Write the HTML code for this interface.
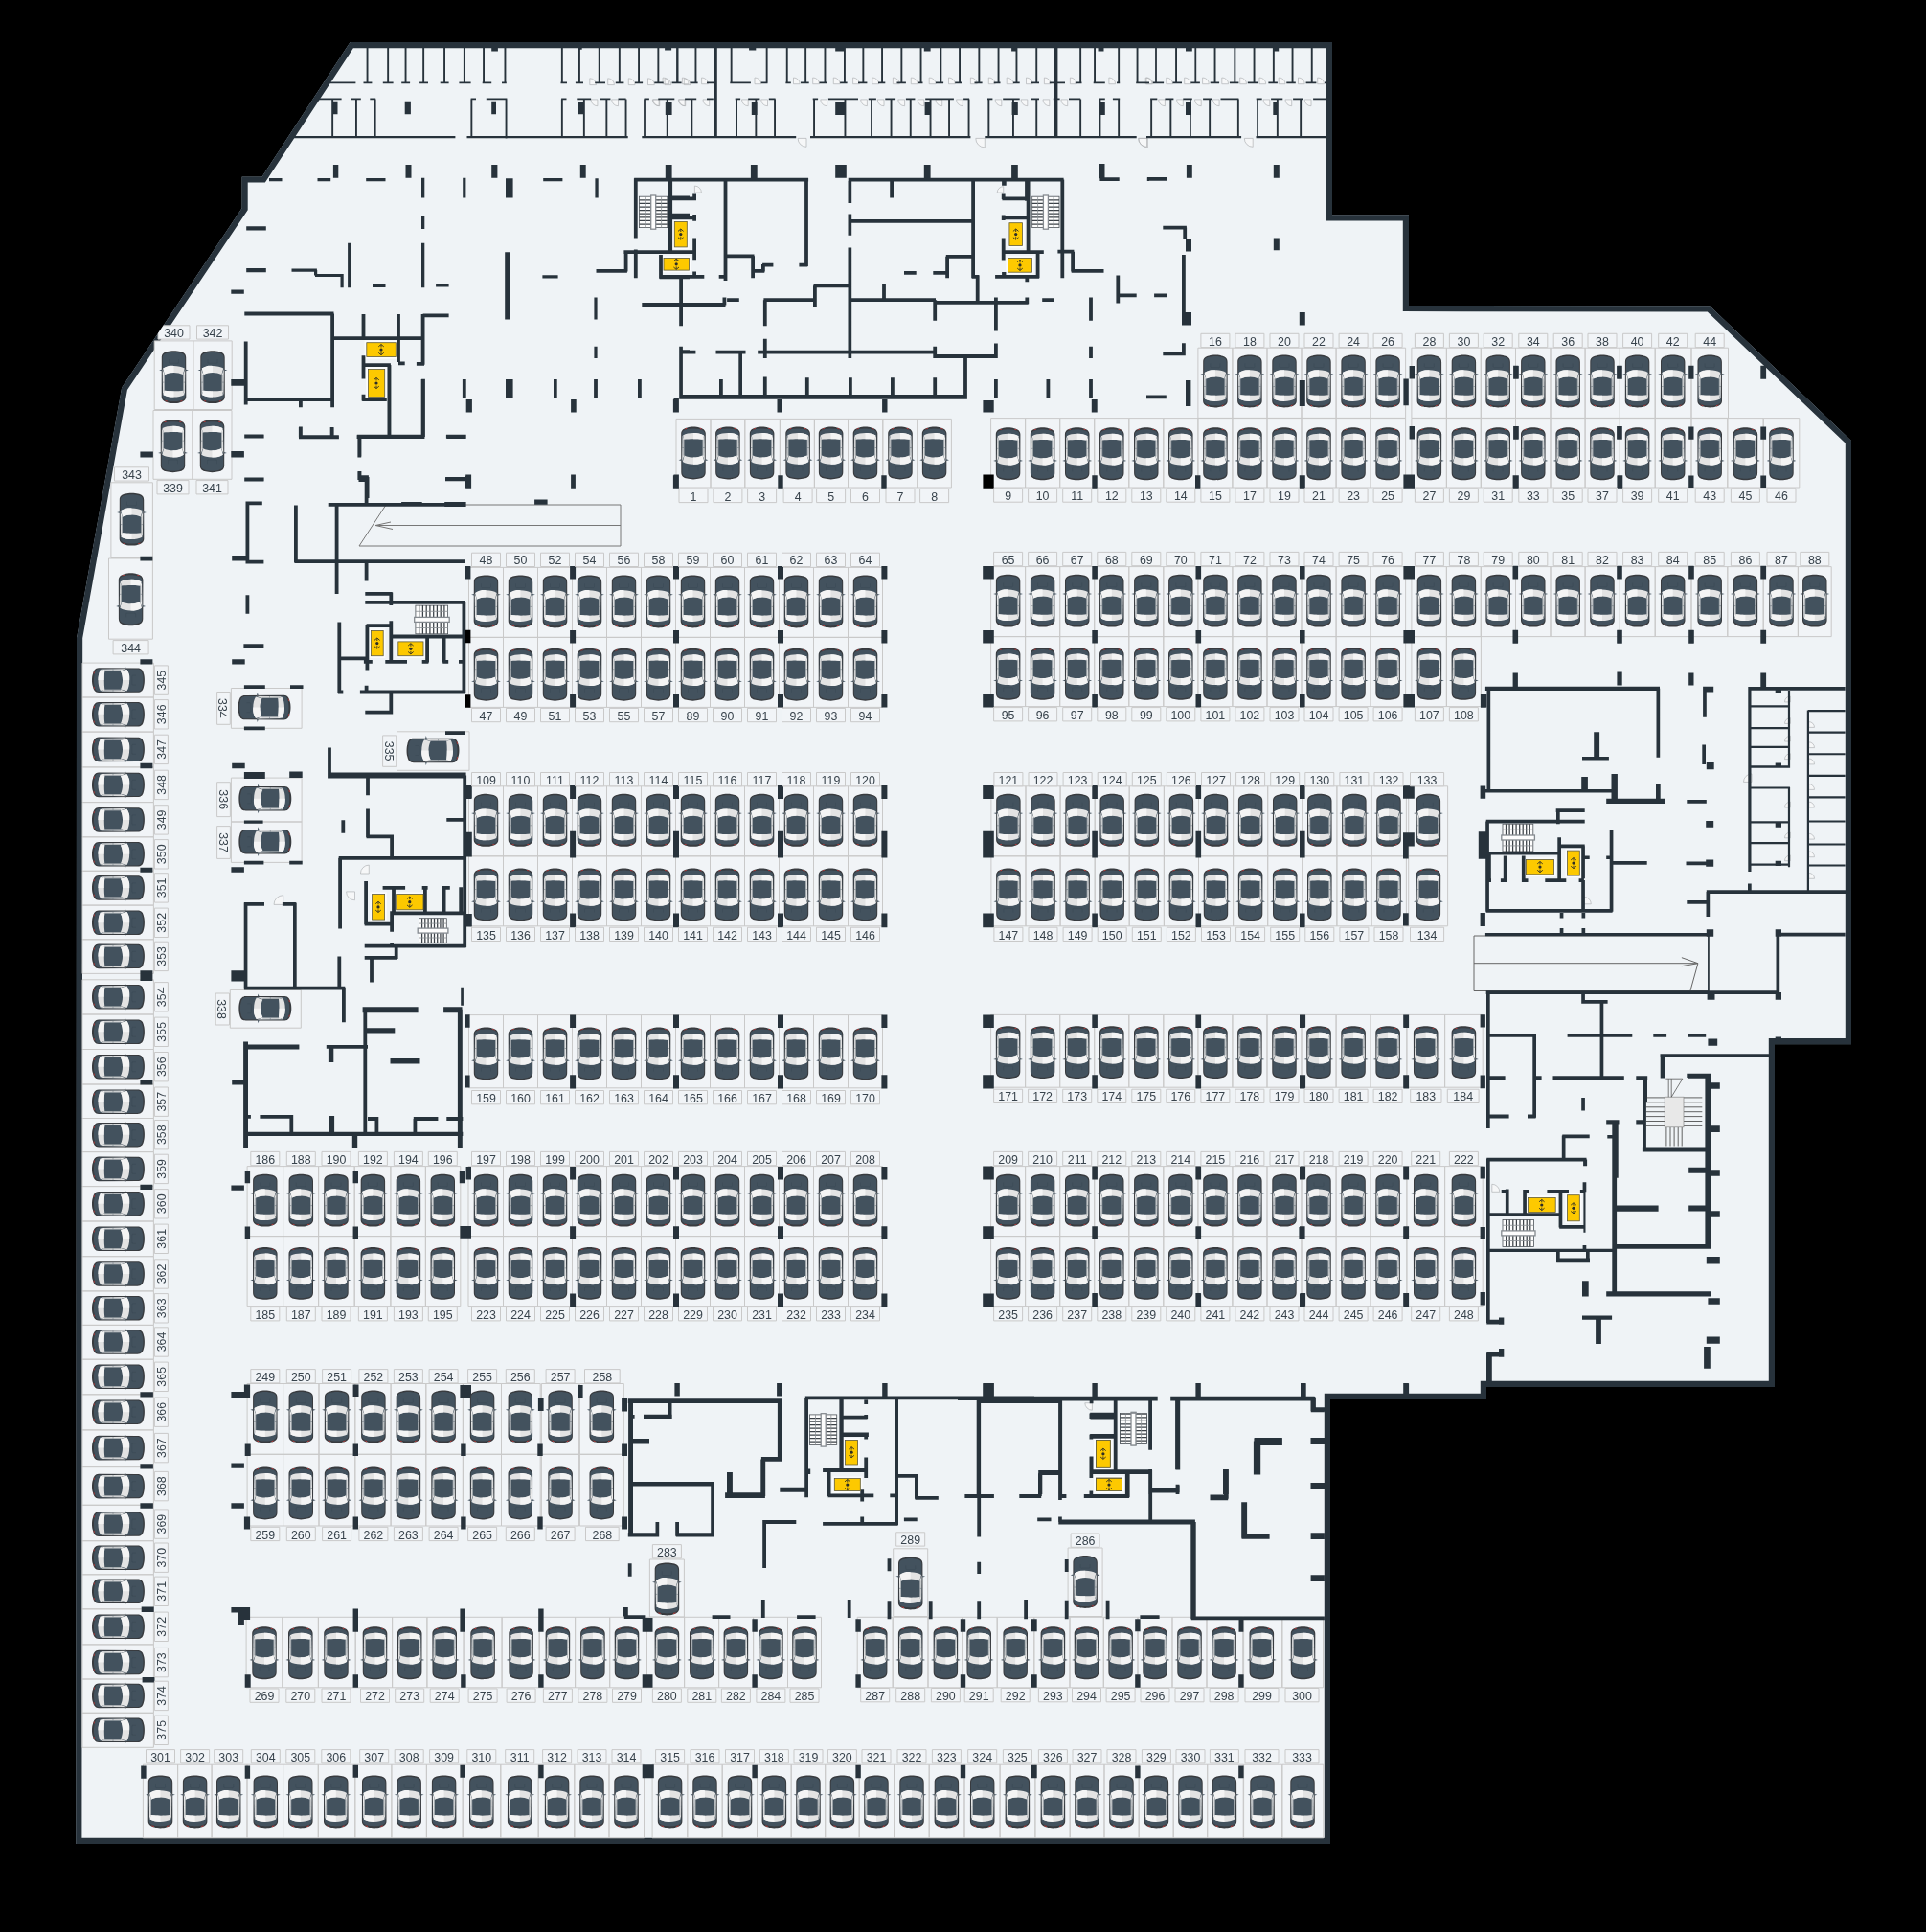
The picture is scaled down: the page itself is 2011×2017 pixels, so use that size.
<!DOCTYPE html><html><head><meta charset="utf-8"><style>html,body{margin:0;padding:0;background:#000}svg{display:block}</style></head><body><svg width="2011" height="2017" viewBox="0 0 2011 2017" font-family="Liberation Sans, sans-serif">
<defs>
<g id="c">
<path d="M-12.7,-20C-12.7,-24.4 -10.2,-25.9 -6.6,-26.6C-3.4,-27.7 3.4,-27.7 6.6,-26.6C10.2,-25.9 12.7,-24.4 12.7,-20L12.8,20.4C12.7,24.4 9.6,25.9 6.3,26.6C3.2,27.8 -3.2,27.8 -6.3,26.6C-9.6,25.9 -12.7,24.4 -12.8,20.4Z" fill="#383b3f"/>
<path d="M-11.7,-19.8C-11.7,-23.4 -9.5,-24.6 -6.3,-25.2C-3.3,-26.2 3.3,-26.2 6.3,-25.2C9.5,-24.6 11.7,-23.4 11.7,-19.8L11.8,20.2C11.8,23.4 9,24.3 5.9,24.9C3,25.7 -3,25.7 -5.9,24.9C-9,24.3 -11.8,23.4 -11.8,20.2Z" fill="#43525e"/>
<path d="M-11.8,-8.4L-9.7,-2.6L-9.7,14.4L-11.4,18.4Z" fill="#ececec"/>
<path d="M11.8,-8.4L9.7,-2.6L9.7,14.4L11.4,18.4Z" fill="#dedede"/><path d="M-10.2,-2.6V14.4M10.2,-2.6V14.4M-11.8,5.5H-10M11.8,5.5H10" stroke="#5a6670" stroke-width=".45" fill="none"/>
<path d="M-11.2,-9C-6,-12.6 6,-12.6 11.2,-9L9.4,-2.5C4,-5.2 -4,-5.2 -9.4,-2.5Z" fill="#e3e3e3"/>
<path d="M-11.2,-9C-6,-12.6 -2,-11.8 0,-11.7L0,-4.5C-4,-4.5 -6,-4.2 -9.4,-2.5Z" fill="#f4f4f4"/>
<path d="M-9.8,14.2C-4,14.9 4,14.9 9.8,14.2L10.9,18.6C5,21.8 -5,21.8 -10.9,18.6Z" fill="#e3e3e3"/>
<path d="M-9.8,14.2C-4,14.9 -2,14.8 0,14.8L0,21C-4,21 -7,20.6 -10.9,18.6Z" fill="#f4f4f4"/>
<path d="M-12.5,-7.9L-15.4,-7.2L-12.5,-6.3ZM12.5,-7.9L15.4,-7.2L12.5,-6.3Z" fill="#43525e"/>
<path d="M-5,-18.5L-5,-15.3Q-5,-14.3 -4,-14.3L4,-14.3Q5,-14.3 5,-15.3L5,-18.5" fill="none" stroke="#3b4955" stroke-width=".6"/>
<path d="M-9.8,24.6L-7.2,26L-6.6,25.2ZM9.8,24.6L7.2,26L6.6,25.2Z" fill="#e03a3a"/>
</g>
<g id="lift"><path d="M-2.8,-3.2L0,-5.6L2.8,-3.2M0,-5.4V-2.6M-2.8,3.2L0,5.6L2.8,3.2M0,5.4V2.6" fill="none" stroke="#2d2d26" stroke-width=".9"/><circle r="1.6" fill="#2d2d26"/></g>
<filter id="idf" x="0" y="0" width="100%" height="100%" filterUnits="userSpaceOnUse" color-interpolation-filters="sRGB"><feOffset dx="0" dy="0"/></filter>
</defs>
<rect width="2011" height="2017" fill="#000"/>
<polygon points="365.5,44 1391,44 1391,224.2 1471,224.2 1471,318.9 1785.2,319.3 1933,460 1933,1090.3 1853,1090.3 1853,1448 1552,1448 1552,1461 1389,1461 1389,1925 79.2,1925 80,665.7 127.1,404.5 252.5,217.3 252.5,184.4 273.5,184.4" fill="#27323b"/>
<clipPath id="cp"><polygon points="365.5,44 1391,44 1391,224.2 1471,224.2 1471,318.9 1785.2,319.3 1933,460 1933,1090.3 1853,1090.3 1853,1448 1552,1448 1552,1461 1389,1461 1389,1925 79.2,1925 80,665.7 127.1,404.5 252.5,217.3 252.5,184.4 273.5,184.4"/></clipPath>
<g clip-path="url(#cp)"><polygon points="365.5,44 1391,44 1391,224.2 1471,224.2 1471,318.9 1785.2,319.3 1933,460 1933,1090.3 1853,1090.3 1853,1448 1552,1448 1552,1461 1389,1461 1389,1925 79.2,1925 80,665.7 127.1,404.5 252.5,217.3 252.5,184.4 273.5,184.4" fill="#eff3f6" stroke="#27323b" stroke-width="12.4" stroke-linejoin="miter"/>
<path d="M706.0,437.4H742.0V509.0H706.0ZM742.0,437.4H777.8V509.0H742.0ZM777.8,437.4H814.4V509.0H777.8ZM814.4,437.4H850.4V509.0H814.4ZM850.4,437.4H885.5V509.0H850.4ZM885.5,437.4H921.8V509.0H885.5ZM921.8,437.4H957.8V509.0H921.8ZM957.8,437.4H993.4V509.0H957.8ZM1034.6,436.6H1070.6V509.0H1034.6ZM1070.6,436.6H1106.7V509.0H1070.6ZM1106.7,436.6H1142.7V509.0H1106.7ZM1142.7,436.6H1178.8V509.0H1142.7ZM1178.8,436.6H1214.8V509.0H1178.8ZM1214.8,436.6H1250.9V509.0H1214.8ZM1250.9,436.6H1286.9V509.0H1250.9ZM1286.9,436.6H1323.0V509.0H1286.9ZM1323.0,436.6H1359.0V509.0H1323.0ZM1359.0,436.6H1395.1V509.0H1359.0ZM1395.1,436.6H1431.1V509.0H1395.1ZM1431.1,436.6H1467.6V509.0H1431.1ZM1473.9,436.6H1510.4V509.0H1473.9ZM1510.4,436.6H1546.3V509.0H1510.4ZM1546.3,436.6H1582.5V509.0H1546.3ZM1582.5,436.6H1619.0V509.0H1582.5ZM1619.0,436.6H1655.1V509.0H1619.0ZM1655.1,436.6H1691.3V509.0H1655.1ZM1691.3,436.6H1728.2V509.0H1691.3ZM1728.2,436.6H1766.0V509.0H1728.2ZM1766.0,436.6H1803.8V509.0H1766.0ZM1803.8,436.6H1841.2V509.0H1803.8ZM1841.2,436.6H1878.8V509.0H1841.2ZM1250.9,363.2H1286.9V436.4H1250.9ZM1286.9,363.2H1323.0V436.4H1286.9ZM1323.0,363.2H1359.0V436.4H1323.0ZM1359.0,363.2H1395.1V436.4H1359.0ZM1395.1,363.2H1431.1V436.4H1395.1ZM1431.1,363.2H1467.6V436.4H1431.1ZM1473.9,363.2H1510.4V436.4H1473.9ZM1510.4,363.2H1546.3V436.4H1510.4ZM1546.3,363.2H1582.5V436.4H1546.3ZM1582.5,363.2H1619.0V436.4H1582.5ZM1619.0,363.2H1655.1V436.4H1619.0ZM1655.1,363.2H1691.3V436.4H1655.1ZM1691.3,363.2H1728.2V436.4H1691.3ZM1728.2,363.2H1766.0V436.4H1728.2ZM1766.0,363.2H1804.5V436.4H1766.0ZM489.5,592.4H525.5V665.4H489.5ZM525.5,592.4H561.5V665.4H525.5ZM561.5,592.4H597.5V665.4H561.5ZM597.5,592.4H633.5V665.4H597.5ZM633.5,592.4H669.5V665.4H633.5ZM669.5,592.4H705.5V665.4H669.5ZM705.5,592.4H741.5V665.4H705.5ZM741.5,592.4H777.5V665.4H741.5ZM777.5,592.4H813.5V665.4H777.5ZM813.5,592.4H849.5V665.4H813.5ZM849.5,592.4H885.5V665.4H849.5ZM885.5,592.4H921.5V665.4H885.5ZM489.5,665.4H525.5V738.4H489.5ZM525.5,665.4H561.5V738.4H525.5ZM561.5,665.4H597.5V738.4H561.5ZM597.5,665.4H633.5V738.4H597.5ZM633.5,665.4H669.5V738.4H633.5ZM669.5,665.4H705.5V738.4H669.5ZM705.5,665.4H741.5V738.4H705.5ZM741.5,665.4H777.5V738.4H741.5ZM777.5,665.4H813.5V738.4H777.5ZM813.5,665.4H849.5V738.4H813.5ZM849.5,665.4H885.5V738.4H849.5ZM885.5,665.4H921.5V738.4H885.5ZM1034.6,591.6H1070.6V664.6H1034.6ZM1070.6,591.6H1106.7V664.6H1070.6ZM1106.7,591.6H1142.7V664.6H1106.7ZM1142.7,591.6H1178.8V664.6H1142.7ZM1178.8,591.6H1214.8V664.6H1178.8ZM1214.8,591.6H1250.9V664.6H1214.8ZM1250.9,591.6H1286.9V664.6H1250.9ZM1286.9,591.6H1323.0V664.6H1286.9ZM1323.0,591.6H1359.0V664.6H1323.0ZM1359.0,591.6H1395.1V664.6H1359.0ZM1395.1,591.6H1431.1V664.6H1395.1ZM1431.1,591.6H1467.6V664.6H1431.1ZM1473.9,591.6H1510.4V664.6H1473.9ZM1510.4,591.6H1546.3V664.6H1510.4ZM1546.3,591.6H1582.5V664.6H1546.3ZM1582.5,591.6H1619.0V664.6H1582.5ZM1619.0,591.6H1655.1V664.6H1619.0ZM1655.1,591.6H1691.3V664.6H1655.1ZM1691.3,591.6H1728.2V664.6H1691.3ZM1728.2,591.6H1766.0V664.6H1728.2ZM1766.0,591.6H1803.8V664.6H1766.0ZM1803.8,591.6H1841.2V664.6H1803.8ZM1841.2,591.6H1877.4V664.6H1841.2ZM1877.4,591.6H1912.2V664.6H1877.4ZM1034.6,664.6H1070.6V737.6H1034.6ZM1070.6,664.6H1106.7V737.6H1070.6ZM1106.7,664.6H1142.7V737.6H1106.7ZM1142.7,664.6H1178.8V737.6H1142.7ZM1178.8,664.6H1214.8V737.6H1178.8ZM1214.8,664.6H1250.9V737.6H1214.8ZM1250.9,664.6H1286.9V737.6H1250.9ZM1286.9,664.6H1323.0V737.6H1286.9ZM1323.0,664.6H1359.0V737.6H1323.0ZM1359.0,664.6H1395.1V737.6H1359.0ZM1395.1,664.6H1431.1V737.6H1395.1ZM1431.1,664.6H1467.6V737.6H1431.1ZM1473.9,664.6H1510.4V737.6H1473.9ZM1510.4,664.6H1546.4V737.6H1510.4ZM489.5,820.8H525.5V893.8H489.5ZM525.5,820.8H561.5V893.8H525.5ZM561.5,820.8H597.5V893.8H561.5ZM597.5,820.8H633.5V893.8H597.5ZM633.5,820.8H669.5V893.8H633.5ZM669.5,820.8H705.5V893.8H669.5ZM705.5,820.8H741.5V893.8H705.5ZM741.5,820.8H777.5V893.8H741.5ZM777.5,820.8H813.5V893.8H777.5ZM813.5,820.8H849.5V893.8H813.5ZM849.5,820.8H885.5V893.8H849.5ZM885.5,820.8H921.5V893.8H885.5ZM489.5,893.8H525.5V966.8H489.5ZM525.5,893.8H561.5V966.8H525.5ZM561.5,893.8H597.5V966.8H561.5ZM597.5,893.8H633.5V966.8H597.5ZM633.5,893.8H669.5V966.8H633.5ZM669.5,893.8H705.5V966.8H669.5ZM705.5,893.8H741.5V966.8H705.5ZM741.5,893.8H777.5V966.8H741.5ZM777.5,893.8H813.5V966.8H777.5ZM813.5,893.8H849.5V966.8H813.5ZM849.5,893.8H885.5V966.8H849.5ZM885.5,893.8H921.5V966.8H885.5ZM1034.9,820.8H1071.0V893.8H1034.9ZM1071.0,820.8H1107.1V893.8H1071.0ZM1107.1,820.8H1143.2V893.8H1107.1ZM1143.2,820.8H1179.2V893.8H1143.2ZM1179.2,820.8H1215.4V893.8H1179.2ZM1215.4,820.8H1251.5V893.8H1215.4ZM1251.5,820.8H1287.6V893.8H1251.5ZM1287.6,820.8H1323.7V893.8H1287.6ZM1323.7,820.8H1359.8V893.8H1323.7ZM1359.8,820.8H1395.9V893.8H1359.8ZM1395.9,820.8H1432.0V893.8H1395.9ZM1432.0,820.8H1470.7V893.8H1432.0ZM1468.4,820.8H1511.6V893.8H1468.4ZM1034.9,893.8H1071.0V966.8H1034.9ZM1071.0,893.8H1107.1V966.8H1071.0ZM1107.1,893.8H1143.2V966.8H1107.1ZM1143.2,893.8H1179.2V966.8H1143.2ZM1179.2,893.8H1215.4V966.8H1179.2ZM1215.4,893.8H1251.5V966.8H1215.4ZM1251.5,893.8H1287.6V966.8H1251.5ZM1287.6,893.8H1323.7V966.8H1287.6ZM1323.7,893.8H1359.8V966.8H1323.7ZM1359.8,893.8H1395.9V966.8H1359.8ZM1395.9,893.8H1432.0V966.8H1395.9ZM1432.0,893.8H1470.7V966.8H1432.0ZM1468.4,893.8H1511.6V966.8H1468.4ZM489.5,1059.6H525.5V1135.8H489.5ZM525.5,1059.6H561.5V1135.8H525.5ZM561.5,1059.6H597.5V1135.8H561.5ZM597.5,1059.6H633.5V1135.8H597.5ZM633.5,1059.6H669.5V1135.8H633.5ZM669.5,1059.6H705.5V1135.8H669.5ZM705.5,1059.6H741.5V1135.8H705.5ZM741.5,1059.6H777.5V1135.8H741.5ZM777.5,1059.6H813.5V1135.8H777.5ZM813.5,1059.6H849.5V1135.8H813.5ZM849.5,1059.6H885.5V1135.8H849.5ZM885.5,1059.6H921.5V1135.8H885.5ZM1034.6,1059.4H1070.6V1135.2H1034.6ZM1070.6,1059.4H1106.7V1135.2H1070.6ZM1106.7,1059.4H1142.7V1135.2H1106.7ZM1142.7,1059.4H1178.8V1135.2H1142.7ZM1178.8,1059.4H1214.8V1135.2H1178.8ZM1214.8,1059.4H1250.9V1135.2H1214.8ZM1250.9,1059.4H1286.9V1135.2H1250.9ZM1286.9,1059.4H1323.0V1135.2H1286.9ZM1323.0,1059.4H1359.0V1135.2H1323.0ZM1359.0,1059.4H1395.1V1135.2H1359.0ZM1395.1,1059.4H1431.1V1135.2H1395.1ZM1431.1,1059.4H1468.9V1135.2H1431.1ZM1468.9,1059.4H1508.6V1135.2H1468.9ZM1508.6,1059.4H1548.2V1135.2H1508.6ZM258.1,1217.6H295.6V1290.6H258.1ZM295.6,1217.6H332.6V1290.6H295.6ZM332.6,1217.6H370.2V1290.6H332.6ZM370.2,1217.6H407.9V1290.6H370.2ZM407.9,1217.6H444.4V1290.6H407.9ZM444.4,1217.6H480.8V1290.6H444.4ZM489.0,1217.6H525.5V1290.6H489.0ZM525.5,1217.6H561.5V1290.6H525.5ZM561.5,1217.6H597.5V1290.6H561.5ZM597.5,1217.6H633.5V1290.6H597.5ZM633.5,1217.6H669.5V1290.6H633.5ZM669.5,1217.6H705.5V1290.6H669.5ZM705.5,1217.6H741.5V1290.6H705.5ZM741.5,1217.6H777.5V1290.6H741.5ZM777.5,1217.6H813.5V1290.6H777.5ZM813.5,1217.6H849.5V1290.6H813.5ZM849.5,1217.6H885.5V1290.6H849.5ZM885.5,1217.6H921.5V1290.6H885.5ZM258.1,1290.6H295.6V1363.6H258.1ZM295.6,1290.6H332.6V1363.6H295.6ZM332.6,1290.6H370.2V1363.6H332.6ZM370.2,1290.6H407.9V1363.6H370.2ZM407.9,1290.6H444.4V1363.6H407.9ZM444.4,1290.6H480.8V1363.6H444.4ZM489.0,1290.6H525.5V1363.6H489.0ZM525.5,1290.6H561.5V1363.6H525.5ZM561.5,1290.6H597.5V1363.6H561.5ZM597.5,1290.6H633.5V1363.6H597.5ZM633.5,1290.6H669.5V1363.6H633.5ZM669.5,1290.6H705.5V1363.6H669.5ZM705.5,1290.6H741.5V1363.6H705.5ZM741.5,1290.6H777.5V1363.6H741.5ZM777.5,1290.6H813.5V1363.6H777.5ZM813.5,1290.6H849.5V1363.6H813.5ZM849.5,1290.6H885.5V1363.6H849.5ZM885.5,1290.6H921.5V1363.6H885.5ZM1034.6,1217.6H1070.6V1290.6H1034.6ZM1070.6,1217.6H1106.7V1290.6H1070.6ZM1106.7,1217.6H1142.7V1290.6H1106.7ZM1142.7,1217.6H1178.8V1290.6H1142.7ZM1178.8,1217.6H1214.8V1290.6H1178.8ZM1214.8,1217.6H1250.9V1290.6H1214.8ZM1250.9,1217.6H1286.9V1290.6H1250.9ZM1286.9,1217.6H1323.0V1290.6H1286.9ZM1323.0,1217.6H1359.0V1290.6H1323.0ZM1359.0,1217.6H1395.1V1290.6H1359.0ZM1395.1,1217.6H1431.1V1290.6H1395.1ZM1431.1,1217.6H1468.9V1290.6H1431.1ZM1468.9,1217.6H1508.6V1290.6H1468.9ZM1508.6,1217.6H1548.2V1290.6H1508.6ZM1034.6,1290.6H1070.6V1363.6H1034.6ZM1070.6,1290.6H1106.7V1363.6H1070.6ZM1106.7,1290.6H1142.7V1363.6H1106.7ZM1142.7,1290.6H1178.8V1363.6H1142.7ZM1178.8,1290.6H1214.8V1363.6H1178.8ZM1214.8,1290.6H1250.9V1363.6H1214.8ZM1250.9,1290.6H1286.9V1363.6H1250.9ZM1286.9,1290.6H1323.0V1363.6H1286.9ZM1323.0,1290.6H1359.0V1363.6H1323.0ZM1359.0,1290.6H1395.1V1363.6H1359.0ZM1395.1,1290.6H1431.1V1363.6H1395.1ZM1431.1,1290.6H1468.9V1363.6H1431.1ZM1468.9,1290.6H1508.6V1363.6H1468.9ZM1508.6,1290.6H1548.2V1363.6H1508.6ZM258.1,1444.5H295.6V1518.3H258.1ZM295.6,1444.5H333.0V1518.3H295.6ZM333.0,1444.5H370.8V1518.3H333.0ZM370.8,1444.5H408.1V1518.3H370.8ZM408.1,1444.5H444.8V1518.3H408.1ZM444.8,1444.5H483.4V1518.3H444.8ZM483.4,1444.5H523.5V1518.3H483.4ZM523.5,1444.5H564.2V1518.3H523.5ZM565.4,1444.5H604.6V1518.3H565.4ZM605.4,1444.5H651.3V1518.3H605.4ZM258.1,1518.3H295.6V1593.0H258.1ZM295.6,1518.3H333.0V1593.0H295.6ZM333.0,1518.3H370.8V1593.0H333.0ZM370.8,1518.3H408.1V1593.0H370.8ZM408.1,1518.3H444.8V1593.0H408.1ZM444.8,1518.3H483.4V1593.0H444.8ZM483.4,1518.3H523.5V1593.0H483.4ZM523.5,1518.3H564.2V1593.0H523.5ZM565.4,1518.3H604.6V1593.0H565.4ZM605.4,1518.3H651.3V1593.0H605.4ZM257.1,1688.3H294.9V1761.8H257.1ZM294.9,1688.3H332.4V1761.8H294.9ZM332.4,1688.3H371.2V1761.8H332.4ZM371.2,1688.3H409.6V1761.8H371.2ZM409.6,1688.3H445.9V1761.8H409.6ZM445.9,1688.3H484.1V1761.8H445.9ZM484.1,1688.3H524.1V1761.8H484.1ZM524.1,1688.3H563.2V1761.8H524.1ZM563.2,1688.3H600.6V1761.8H563.2ZM600.6,1688.3H636.7V1761.8H600.6ZM636.7,1688.3H675.5V1761.8H636.7ZM675.5,1688.3H714.6V1761.8H675.5ZM714.6,1688.3H750.6V1761.8H714.6ZM750.6,1688.3H786.6V1761.8H750.6ZM786.6,1688.3H822.5V1761.8H786.6ZM822.5,1688.3H857.5V1761.8H822.5ZM895.2,1688.3H932.2V1761.8H895.2ZM932.2,1688.3H969.0V1761.8H932.2ZM969.0,1688.3H1004.8V1761.8H969.0ZM1004.8,1688.3H1041.2V1761.8H1004.8ZM1041.2,1688.3H1079.8V1761.8H1041.2ZM1079.8,1688.3H1117.0V1761.8H1079.8ZM1117.0,1688.3H1152.3V1761.8H1117.0ZM1152.3,1688.3H1188.0V1761.8H1152.3ZM1188.0,1688.3H1224.0V1761.8H1188.0ZM1224.0,1688.3H1260.0V1761.8H1224.0ZM1260.0,1688.3H1297.7V1761.8H1260.0ZM1298.6,1688.3H1338.6V1761.8H1298.6ZM1339.0,1688.3H1381.5V1761.8H1339.0ZM678.4,1628.0H714.4V1688.0H678.4ZM932.7,1616.8H968.7V1687.5H932.7ZM1115.1,1616.0H1151.1V1687.5H1115.1ZM149.4,1842.2H185.6V1918.8H149.4ZM185.6,1842.2H221.1V1918.8H185.6ZM221.1,1842.2H258.0V1918.8H221.1ZM258.0,1842.2H295.6V1918.8H258.0ZM295.6,1842.2H332.3V1918.8H295.6ZM332.3,1842.2H370.8V1918.8H332.3ZM370.8,1842.2H408.9V1918.8H370.8ZM408.9,1842.2H445.4V1918.8H408.9ZM445.4,1842.2H483.2V1918.8H445.4ZM483.2,1842.2H522.8V1918.8H483.2ZM522.8,1842.2H562.2V1918.8H522.8ZM562.2,1842.2H599.8V1918.8H562.2ZM599.8,1842.2H636.0V1918.8H599.8ZM636.0,1842.2H672.5V1918.8H636.0ZM681.1,1842.2H717.8V1918.8H681.1ZM717.8,1842.2H754.2V1918.8H717.8ZM754.2,1842.2H790.5V1918.8H754.2ZM790.5,1842.2H826.2V1918.8H790.5ZM826.2,1842.2H861.7V1918.8H826.2ZM861.7,1842.2H897.2V1918.8H861.7ZM897.2,1842.2H933.5V1918.8H897.2ZM933.5,1842.2H970.2V1918.8H933.5ZM970.2,1842.2H1007.0V1918.8H970.2ZM1007.0,1842.2H1044.1V1918.8H1007.0ZM1044.1,1842.2H1080.9V1918.8H1044.1ZM1080.9,1842.2H1117.2V1918.8H1080.9ZM1117.2,1842.2H1153.0V1918.8H1117.2ZM1153.0,1842.2H1189.2V1918.8H1153.0ZM1189.2,1842.2H1225.2V1918.8H1189.2ZM1225.2,1842.2H1260.7V1918.8H1225.2ZM1260.7,1842.2H1298.2V1918.8H1260.7ZM1298.6,1842.2H1338.6V1918.8H1298.6ZM1339.0,1842.2H1381.8V1918.8H1339.0ZM161.2,355.9H201.8V427.5H161.2ZM201.8,355.9H242.2V427.5H201.8ZM160.0,428.5H201.0V500.3H160.0ZM201.0,428.5H242.0V500.3H201.0ZM115.9,503.8H159.4V582.5H115.9ZM113.5,583.0H159.4V667.2H113.5ZM86.0,692.1H160.4V728.0H86.0ZM86.0,728.0H160.4V764.1H86.0ZM86.0,764.1H160.4V800.9H86.0ZM86.0,800.9H160.4V837.6H86.0ZM86.0,837.6H160.4V873.8H86.0ZM86.0,873.8H160.4V909.3H86.0ZM86.0,909.3H160.4V945.1H86.0ZM86.0,945.1H160.4V980.8H86.0ZM86.0,980.8H160.4V1016.4H86.0ZM86.0,1022.8H160.4V1059.0H86.0ZM86.0,1059.0H160.4V1095.5H86.0ZM86.0,1095.5H160.4V1132.0H86.0ZM86.0,1132.0H160.4V1167.5H86.0ZM86.0,1167.5H160.4V1202.6H86.0ZM86.0,1202.6H160.4V1238.6H86.0ZM86.0,1238.6H160.4V1275.0H86.0ZM86.0,1275.0H160.4V1311.7H86.0ZM86.0,1311.7H160.4V1347.9H86.0ZM86.0,1347.9H160.4V1383.4H86.0ZM86.0,1383.4H160.4V1419.2H86.0ZM86.0,1419.2H160.4V1455.8H86.0ZM86.0,1455.8H160.4V1492.9H86.0ZM86.0,1492.9H160.4V1531.6H86.0ZM86.0,1531.6H160.4V1571.3H86.0ZM86.0,1571.3H160.4V1608.7H86.0ZM86.0,1608.7H160.4V1643.8H86.0ZM86.0,1643.8H160.4V1679.8H86.0ZM86.0,1679.8H160.4V1716.9H86.0ZM86.0,1716.9H160.4V1753.0H86.0ZM86.0,1753.0H160.4V1788.3H86.0ZM86.0,1788.3H160.4V1824.3H86.0ZM241.4,718.5H315.1V760.3H241.4ZM414.5,763.8H490.0V804.3H414.5ZM241.4,812.1H315.1V858.0H241.4ZM241.4,858.0H315.1V900.4H241.4ZM240.3,1033.5H314.3V1073.2H240.3Z" fill="#f1f4f7" stroke="#c9c9c9" stroke-width="1"/>
<path d="M1539.0,977.0H1783.9V1034.5H1539.0Z M1539.0,1005.7H1772.9L1764.9,1034.5 M1755.9,999.7L1772.9,1005.7L1755.9,1008.7" fill="none" stroke="#666" stroke-width="1"/>
<path d="M425,527H648V570H375L403,527Z M392,548.5H648 M408,545L392,548.5L410,552.5" fill="none" stroke="#777" stroke-width="1"/>
<path d="M692.1,87.7L692.1,81.0A6.7,6.7 0 0 1 698.9,87.7ZM712.4,87.7L712.4,81.0A6.7,6.7 0 0 1 719.1,87.7ZM732.6,87.7L732.6,81.0A6.7,6.7 0 0 1 739.4,87.7ZM788.0,87.7L788.0,81.0A6.7,6.7 0 0 1 794.7,87.7ZM828.5,87.7L828.5,81.0A6.7,6.7 0 0 1 835.2,87.7ZM848.7,87.7L848.7,81.0A6.7,6.7 0 0 1 855.5,87.7ZM870.3,87.7L870.3,81.0A6.7,6.7 0 0 1 877.1,87.7ZM890.6,87.7L890.6,81.0A6.7,6.7 0 0 1 897.3,87.7ZM910.8,87.7L910.8,81.0A6.7,6.7 0 0 1 917.6,87.7ZM932.4,87.7L932.4,81.0A6.7,6.7 0 0 1 939.2,87.7ZM951.3,87.7L951.3,81.0A6.7,6.7 0 0 1 958.1,87.7ZM970.2,87.7L970.2,81.0A6.7,6.7 0 0 1 977.0,87.7ZM990.5,87.7L990.5,81.0A6.7,6.7 0 0 1 997.2,87.7ZM1013.4,87.7L1013.4,81.0A6.7,6.7 0 0 1 1020.2,87.7ZM1032.3,87.7L1032.3,81.0A6.7,6.7 0 0 1 1039.1,87.7ZM1051.2,87.7L1051.2,81.0A6.7,6.7 0 0 1 1058.0,87.7ZM1071.5,87.7L1071.5,81.0A6.7,6.7 0 0 1 1078.2,87.7ZM1090.4,87.7L1090.4,81.0A6.7,6.7 0 0 1 1097.1,87.7ZM1117.4,87.7L1117.4,81.0A6.7,6.7 0 0 1 1124.1,87.7ZM1157.9,87.7L1157.9,81.0A6.7,6.7 0 0 1 1164.6,87.7ZM1197.0,87.7L1197.0,81.0A6.7,6.7 0 0 1 1203.8,87.7ZM688.1,103.9L688.1,110.7A6.7,6.7 0 0 1 681.3,103.9ZM715.1,103.9L715.1,110.7A6.7,6.7 0 0 1 708.3,103.9ZM740.7,103.9L740.7,110.7A6.7,6.7 0 0 1 734.0,103.9ZM781.2,103.9L781.2,110.7A6.7,6.7 0 0 1 774.5,103.9ZM801.5,103.9L801.5,110.7A6.7,6.7 0 0 1 794.7,103.9ZM863.6,103.9L863.6,110.7A6.7,6.7 0 0 1 856.8,103.9ZM905.4,103.9L905.4,110.7A6.7,6.7 0 0 1 898.7,103.9ZM923.0,103.9L923.0,110.7A6.7,6.7 0 0 1 916.2,103.9ZM944.6,103.9L944.6,110.7A6.7,6.7 0 0 1 937.8,103.9ZM964.8,103.9L964.8,110.7A6.7,6.7 0 0 1 958.1,103.9ZM983.7,103.9L983.7,110.7A6.7,6.7 0 0 1 977.0,103.9ZM1005.3,103.9L1005.3,110.7A6.7,6.7 0 0 1 998.6,103.9ZM1045.8,103.9L1045.8,110.7A6.7,6.7 0 0 1 1039.1,103.9ZM1072.8,103.9L1072.8,110.7A6.7,6.7 0 0 1 1066.1,103.9ZM1095.8,103.9L1095.8,110.7A6.7,6.7 0 0 1 1089.0,103.9ZM1114.7,103.9L1114.7,110.7A6.7,6.7 0 0 1 1107.9,103.9ZM842.0,144.4L842.0,153.3A8.9,8.9 0 0 1 833.1,144.4ZM1028.3,144.4L1028.3,153.9A9.4,9.4 0 0 1 1018.8,144.4ZM1198.4,144.4L1198.4,153.9A9.4,9.4 0 0 1 1188.9,144.4ZM725.4,201.1L725.4,194.1A7.0,7.0 0 0 1 732.4,201.1ZM1047.7,201.1L1047.7,194.7A6.5,6.5 0 0 0 1041.2,201.1ZM615.8,88.6L615.8,81.8A6.7,6.7 0 0 1 622.5,88.6ZM634.7,88.6L634.7,81.8A6.7,6.7 0 0 1 641.4,88.6ZM656.3,88.6L656.3,81.8A6.7,6.7 0 0 1 663.0,88.6ZM676.5,88.6L676.5,81.8A6.7,6.7 0 0 1 683.3,88.6ZM694.1,88.6L694.1,81.8A6.7,6.7 0 0 1 700.8,88.6ZM714.3,88.6L714.3,81.8A6.7,6.7 0 0 1 721.1,88.6ZM623.9,103.9L623.9,110.7A6.7,6.7 0 0 1 617.1,103.9ZM645.5,103.9L645.5,110.7A6.7,6.7 0 0 1 638.7,103.9ZM688.7,103.9L688.7,110.7A6.7,6.7 0 0 1 681.9,103.9ZM715.7,103.9L715.7,110.7A6.7,6.7 0 0 1 708.9,103.9ZM1196.2,87.7L1196.2,81.0A6.7,6.7 0 0 1 1202.9,87.7ZM1217.8,87.7L1217.8,81.0A6.7,6.7 0 0 1 1224.5,87.7ZM1236.7,87.7L1236.7,81.0A6.7,6.7 0 0 1 1243.4,87.7ZM1255.6,87.7L1255.6,81.0A6.7,6.7 0 0 1 1262.3,87.7ZM1275.8,87.7L1275.8,81.0A6.7,6.7 0 0 1 1282.6,87.7ZM1294.7,87.7L1294.7,81.0A6.7,6.7 0 0 1 1301.5,87.7ZM1315.0,87.7L1315.0,81.0A6.7,6.7 0 0 1 1321.7,87.7ZM1335.2,87.7L1335.2,81.0A6.7,6.7 0 0 1 1342.0,87.7ZM1355.5,87.7L1355.5,81.0A6.7,6.7 0 0 1 1362.2,87.7ZM1375.7,87.7L1375.7,81.0A6.7,6.7 0 0 1 1382.5,87.7ZM1216.4,103.9L1216.4,110.7A6.7,6.7 0 0 1 1209.7,103.9ZM1235.3,103.9L1235.3,110.7A6.7,6.7 0 0 1 1228.6,103.9ZM1254.2,103.9L1254.2,110.7A6.7,6.7 0 0 1 1247.5,103.9ZM1273.1,103.9L1273.1,110.7A6.7,6.7 0 0 1 1266.4,103.9ZM1325.8,103.9L1325.8,110.7A6.7,6.7 0 0 1 1319.0,103.9ZM1348.7,103.9L1348.7,110.7A6.7,6.7 0 0 1 1342.0,103.9ZM1369.0,103.9L1369.0,110.7A6.7,6.7 0 0 1 1362.2,103.9ZM1197.5,144.4L1197.5,153.3A8.9,8.9 0 0 1 1188.6,144.4ZM1308.2,144.4L1308.2,153.3A8.9,8.9 0 0 1 1299.3,144.4ZM1869.3,732.9L1869.3,727.0A5.8,5.8 0 0 0 1863.5,732.9ZM1869.3,755.4L1869.3,749.6A5.8,5.8 0 0 0 1863.5,755.4ZM1869.3,774.0L1869.3,768.2A5.8,5.8 0 0 0 1863.5,774.0ZM1869.3,792.6L1869.3,786.7A5.8,5.8 0 0 0 1863.5,792.6ZM1869.3,843.0L1869.3,837.1A5.8,5.8 0 0 0 1863.5,843.0ZM1869.3,874.8L1869.3,869.0A5.8,5.8 0 0 0 1863.5,874.8ZM1869.3,898.7L1869.3,892.9A5.8,5.8 0 0 0 1863.5,898.7ZM1888.7,759.4L1888.7,753.6A5.8,5.8 0 0 1 1894.5,759.4ZM1888.7,780.6L1888.7,774.8A5.8,5.8 0 0 1 1894.5,780.6ZM1888.7,797.9L1888.7,792.0A5.8,5.8 0 0 1 1894.5,797.9ZM1888.7,824.4L1888.7,818.6A5.8,5.8 0 0 1 1894.5,824.4ZM1888.7,843.0L1888.7,837.1A5.8,5.8 0 0 1 1894.5,843.0ZM1888.7,876.1L1888.7,870.3A5.8,5.8 0 0 1 1894.5,876.1ZM1888.7,894.7L1888.7,888.9A5.8,5.8 0 0 1 1894.5,894.7ZM1888.7,917.3L1888.7,911.4A5.8,5.8 0 0 1 1894.5,917.3ZM1829.0,816.4L1829.0,807.9A8.5,8.5 0 0 0 1820.5,816.4ZM1653.9,943.8L1653.9,936.4A7.4,7.4 0 0 1 1661.3,943.8ZM385.3,912.0L385.3,903.1A8.9,8.9 0 0 0 376.4,912.0ZM370.5,930.9L370.5,939.8A8.9,8.9 0 0 1 361.6,930.9ZM295.7,944.4L295.7,934.7A9.7,9.7 0 0 0 286.0,944.4ZM1557.8,1244.3L1557.8,1236.3A8.0,8.0 0 0 1 1565.8,1244.3ZM1140.4,1464.7L1140.4,1472.2A7.6,7.6 0 0 1 1132.8,1464.7Z" fill="#f6f7f8" stroke="#b0b3b6" stroke-width=".7"/>
<rect x="380.6" y="355.5" width="34.9" height="19.2" fill="#fbfcfd"/>
<rect x="382.2" y="383.3" width="21.7" height="33.3" fill="#fbfcfd"/>
<rect x="385.3" y="656.3" width="17.1" height="30.6" fill="#fbfcfd"/>
<rect x="413.6" y="667.7" width="30.6" height="19.2" fill="#fbfcfd"/>
<rect x="386.4" y="931.4" width="17.4" height="30.9" fill="#fbfcfd"/>
<rect x="411.5" y="931.4" width="32.7" height="20.6" fill="#fbfcfd"/>
<rect x="702.1" y="229.2" width="17.4" height="30.9" fill="#fbfcfd"/>
<rect x="690.8" y="267.2" width="30.9" height="17.1" fill="#fbfcfd"/>
<rect x="1051.7" y="230.5" width="17.9" height="28.2" fill="#fbfcfd"/>
<rect x="1050.4" y="267.2" width="29.2" height="19.2" fill="#fbfcfd"/>
<rect x="1634.4" y="885.9" width="17.1" height="30.4" fill="#fbfcfd"/>
<rect x="1591.2" y="895.2" width="33.6" height="19.8" fill="#fbfcfd"/>
<rect x="1593.3" y="1248.2" width="33.1" height="19.5" fill="#fbfcfd"/>
<rect x="1634.4" y="1245.5" width="17.1" height="31.5" fill="#fbfcfd"/>
<rect x="1142.2" y="1501.6" width="19.2" height="32.5" fill="#fbfcfd"/>
<rect x="1142.2" y="1540.8" width="31.4" height="17.6" fill="#fbfcfd"/>
<rect x="880.4" y="1501.2" width="17.4" height="30.0" fill="#fbfcfd"/>
<rect x="869.1" y="1541.4" width="31.4" height="17.4" fill="#fbfcfd"/>
<rect x="1142.3" y="1501.2" width="19.2" height="33.3" fill="#fbfcfd"/>
<rect x="1142.3" y="1541.4" width="31.4" height="17.4" fill="#fbfcfd"/>
<path d="M382.6,49.9H384.5V86.4H382.6ZM404.2,49.9H406.1V86.4H404.2ZM422.6,49.9H424.5V86.4H422.6ZM441.2,49.9H443.1V86.4H441.2ZM463.1,49.9H465.0V86.4H463.1ZM483.9,49.9H485.8V86.4H483.9ZM504.1,49.9H506.0V86.4H504.1ZM526.5,49.9H528.4V86.4H526.5ZM585.9,49.9H587.8V86.4H585.9ZM604.0,49.9H605.9V86.4H604.0ZM624.8,49.9H626.7V86.4H624.8ZM645.9,49.9H647.8V86.4H645.9ZM666.1,49.9H668.0V86.4H666.1ZM686.4,49.9H688.3V86.4H686.4ZM706.6,49.9H708.5V86.4H706.6ZM344.4,85.4H371.4V87.3H344.4ZM379.5,85.4H388.4V87.3H379.5ZM399.8,85.4H410.6V87.3H399.8ZM419.2,85.4H428.1V87.3H419.2ZM438.1,85.4H447.0V87.3H438.1ZM459.7,85.4H468.6V87.3H459.7ZM479.4,85.4H491.6V87.3H479.4ZM503.7,85.4H513.2V87.3H503.7ZM524.0,85.4H528.8V87.3H524.0ZM585.5,85.4H592.0V87.3H585.5ZM600.9,85.4H609.0V87.3H600.9ZM621.2,85.4H632.0V87.3H621.2ZM642.8,85.4H651.4V87.3H642.8ZM663.0,85.4H671.1V87.3H663.0ZM683.3,85.4H692.7V87.3H683.3ZM703.5,85.4H711.6V87.3H703.5ZM513.2,49.9H519.9V53.5H513.2ZM603.6,49.9H607.7V51.8H603.6ZM694.1,49.9H700.8V52.6H694.1ZM332.3,102.5H356.6V104.3H332.3ZM366.0,102.5H376.8V104.3H366.0ZM386.3,102.5H392.2V104.3H386.3ZM491.6,102.5H497.0V104.3H491.6ZM507.8,102.5H529.4V104.3H507.8ZM586.1,102.5H591.5V104.3H586.1ZM602.3,102.5H617.1V104.3H602.3ZM626.6,102.5H637.4V104.3H626.6ZM645.5,102.5H653.6V104.3H645.5ZM672.5,102.5H677.9V104.3H672.5ZM687.3,102.5H702.2V104.3H687.3ZM346.2,103.4H348.1V143.1H346.2ZM371.0,103.4H372.9V143.1H371.0ZM390.7,103.4H392.6V143.1H390.7ZM491.4,103.4H493.3V143.1H491.4ZM527.6,103.4H529.5V144.4H527.6ZM585.9,103.4H587.8V143.1H585.9ZM608.9,103.4H610.8V143.1H608.9ZM632.4,103.4H634.3V143.1H632.4ZM652.6,103.4H654.5V143.1H652.6ZM672.1,103.4H673.9V143.1H672.1ZM695.8,103.4H697.7V143.1H695.8ZM306.6,141.9H475.4V144.3H306.6ZM487.5,141.9H655.7V144.3H487.5ZM670.3,141.9H720.0V144.3H670.3ZM347.1,105.8H352.5V119.3H347.1ZM422.7,105.8H428.9V119.3H422.7ZM513.2,105.8H518.0V119.3H513.2ZM603.6,106.6H610.4V119.3H603.6ZM696.2,106.6H701.6V120.1H696.2ZM347.9,172.0H353.3V185.7H347.9ZM423.5,172.0H429.5V185.7H423.5ZM513.2,172.0H519.4V185.7H513.2ZM605.8,172.0H611.7V185.7H605.8ZM695.4,172.0H701.6V186.3H695.4ZM281.0,186.0H294.5V189.3H281.0ZM331.5,186.0H345.2V189.3H331.5ZM382.2,186.0H402.5V189.3H382.2ZM567.2,186.0H587.4V189.3H567.2ZM440.0,185.7H443.3V206.5H440.0ZM483.2,185.7H486.4V206.5H483.2ZM528.0,186.3H535.6V206.5H528.0ZM621.4,186.3H624.7V206.5H621.4ZM440.0,225.4H443.3V238.9H440.0ZM440.0,253.8H443.3V300.2H440.0ZM363.1,253.8H366.3V300.2H363.1ZM257.2,236.2H277.8V240.6H257.2ZM257.2,280.0H277.8V284.3H257.2ZM241.3,302.4H254.8V306.7H241.3ZM304.5,280.5H330.9V283.7H304.5ZM328.0,282.1H331.2V287.5H328.0ZM329.0,285.9H358.7V289.1H329.0ZM355.5,287.5H358.7V300.2H355.5ZM389.0,296.7H402.5V299.9H389.0ZM455.1,296.2H468.6V299.4H455.1ZM527.2,263.2H532.6V333.4H527.2ZM566.4,287.3H582.6V290.5H566.4ZM620.4,310.5H623.6V333.4H620.4ZM620.4,361.8H623.6V373.9H620.4ZM661.9,186.3H665.7V248.4H661.9ZM662.2,185.7H720.0V189.5H662.2ZM697.0,186.3H700.8V261.9H697.0ZM700.8,204.6H720.0V208.4H700.8ZM700.8,222.7H720.0V226.5H700.8ZM651.4,261.3H720.0V265.1H651.4ZM651.7,263.2H655.5V283.5H651.7ZM622.5,281.0H654.9V284.8H622.5ZM661.9,260.5H665.7V290.2H661.9ZM688.1,265.9H691.9V290.2H688.1ZM688.7,287.5H720.0V291.3H688.7ZM709.2,290.2H713.0V340.2H709.2ZM670.3,316.1H720.0V319.9H670.3ZM255.3,325.6H348.5V329.4H255.3ZM345.2,327.5H349.0V425.2H345.2ZM255.3,415.2H348.5V419.0H255.3ZM254.8,356.4H258.6V422.5H254.8ZM241.3,396.1H256.7V402.8H241.3ZM312.0,418.5H315.8V425.2H312.0ZM348.5,351.2H441.6V355.0H348.5ZM377.6,328.0H381.4V353.1H377.6ZM414.1,328.0H417.9V378.0H414.1ZM439.7,328.0H443.5V380.7H439.7ZM441.6,327.5H468.6V331.3H441.6ZM416.0,377.4H422.7V381.2H416.0ZM434.9,378.0H443.0V381.7H434.9ZM377.6,371.2H381.4V395.5H377.6ZM379.5,379.3H407.9V383.1H379.5ZM404.6,381.2H408.4V454.9H404.6ZM378.2,415.2H403.8V419.0H378.2ZM377.6,411.7H381.4V418.5H377.6ZM439.7,396.1H443.5V456.3H439.7ZM372.8,453.8H443.0V457.6H372.8ZM373.6,455.7H377.4V476.5H373.6ZM255.3,453.8H275.6V457.6H255.3ZM312.0,454.4H353.9V458.2H312.0ZM312.0,445.5H315.8V456.3H312.0ZM344.7,446.0H348.5V456.3H344.7ZM241.3,471.1H254.8V477.3H241.3ZM255.3,498.4H275.6V502.2H255.3ZM373.6,491.9H377.4V498.1H373.6ZM374.1,496.2H384.9V500.0H374.1ZM381.7,498.1H385.5V520.0H381.7ZM465.9,453.8H486.7V457.6H465.9ZM465.1,498.1H490.2V501.9H465.1ZM486.2,495.4H492.1V509.7H486.2ZM482.9,396.1H486.7V415.8H482.9ZM486.7,417.1H492.9V430.6H486.7ZM528.0,396.1H535.6V415.8H528.0ZM578.0,396.1H581.7V415.8H578.0ZM596.1,417.1H601.7V430.6H596.1ZM620.1,396.1H623.9V415.8H620.1ZM666.0,396.1H669.8V415.8H666.0ZM596.1,495.4H600.9V509.7H596.1ZM709.4,361.8H712.7V415.8H709.4ZM711.1,365.3H720.0V369.1H711.1ZM703.5,415.8H708.9V430.6H703.5ZM703.5,495.4H708.9V509.7H703.5ZM255.2,453.6H275.4V457.4H255.2ZM255.2,498.7H275.4V502.5H255.2ZM146.4,471.4H159.9V477.6H146.4ZM241.4,471.4H254.9V477.6H241.4ZM312.4,454.2H353.7V457.9H312.4ZM311.9,445.8H315.7V456.6H311.9ZM344.8,446.6H348.6V456.6H344.8ZM372.6,454.2H443.4V457.9H372.6ZM404.5,381.0H408.3V456.0H404.5ZM440.1,395.8H443.9V456.0H440.1ZM373.4,456.0H377.2V477.6H373.4ZM466.3,454.2H486.6V457.9H466.3ZM373.4,492.2H377.2V501.1H373.4ZM374.5,499.2H384.0V503.0H374.5ZM380.7,499.8H384.5V526.8H380.7ZM465.0,498.4H491.4V502.2H465.0ZM486.0,497.1H491.4V509.2H486.0ZM342.7,524.9H486.6V528.7H342.7ZM419.1,524.1H440.7V528.1H419.1ZM464.2,524.1H486.6V528.9H464.2ZM558.1,521.4H571.6V526.8H558.1ZM349.7,527.6H353.5V619.9H349.7ZM307.8,584.3H486.0V588.1H307.8ZM307.0,527.6H310.8V587.5H307.0ZM256.5,525.4H260.3V587.5H256.5ZM256.5,523.5H273.8V527.3H256.5ZM256.5,584.8H275.4V588.6H256.5ZM242.2,580.0H258.4V585.6H242.2ZM380.7,587.5H384.5V606.4H380.7ZM146.4,580.8H159.4V585.6H146.4ZM256.5,621.3H260.3V640.7H256.5ZM381.3,618.0H409.6V621.8H381.3ZM406.4,618.6H410.2V632.1H406.4ZM381.3,626.9H486.0V630.7H381.3ZM482.5,628.0H486.3V723.9H482.5ZM408.3,662.6H486.0V666.4H408.3ZM406.4,648.3H410.2V691.5H406.4ZM382.6,651.2H408.3V655.0H382.6ZM381.5,652.3H385.3V699.6H381.5ZM352.4,649.6H356.2V723.9H352.4ZM354.3,685.5H384.0V689.3H354.3ZM402.3,689.0H425.0V692.8H402.3ZM379.9,689.0H388.8V692.8H379.9ZM444.2,665.8H448.0V691.5H444.2ZM440.7,689.0H447.4V692.8H440.7ZM461.7,665.8H465.5V691.5H461.7ZM462.3,689.0H468.2V692.8H462.3ZM479.0,689.0H484.4V692.8H479.0ZM375.9,720.6H486.0V724.4H375.9ZM380.7,715.8H384.5V722.5H380.7ZM352.9,720.6H358.3V724.4H352.9ZM406.4,723.9H410.2V745.5H406.4ZM381.3,741.7H409.6V745.5H381.3ZM486.0,591.0H491.4V604.5H486.0ZM254.4,672.3H275.4V676.6H254.4ZM146.4,688.2H159.4V693.6H146.4ZM242.2,688.2H255.7V693.6H242.2ZM254.9,715.2H276.8V719.0H254.9ZM303.0,715.2H316.5V719.0H303.0ZM254.9,758.4H276.8V762.2H254.9ZM465.0,763.3H486.0V767.1H465.0ZM342.1,780.6H345.9V811.6H342.1ZM146.4,796.8H159.4V802.2H146.4ZM242.2,796.8H255.7V802.2H242.2ZM342.1,806.5H486.6V812.4H342.1ZM254.9,805.9H276.8V813.0H254.9ZM302.2,805.4H315.7V812.1H302.2ZM483.3,809.4H487.1V989.0H483.3ZM486.0,820.2H492.8V833.7H486.0ZM486.0,868.8H492.8V894.5H486.0ZM486.0,953.9H492.8V967.4H486.0ZM382.1,812.1H385.9V830.2H382.1ZM382.1,844.5H385.9V874.2H382.1ZM382.6,871.5H411.0V875.3H382.6ZM407.2,873.4H411.0V895.8H407.2ZM353.7,894.0H486.6V897.7H353.7ZM356.4,856.2H360.2V869.7H356.4ZM466.3,854.0H485.2V857.8H466.3ZM353.2,895.8H357.0V969.5H353.2ZM380.2,920.1H384.0V965.2H380.2ZM380.7,962.8H410.4V966.6H380.7ZM407.2,951.2H411.0V972.8H407.2ZM409.1,951.5H486.6V955.2H409.1ZM399.6,925.0H423.1V928.8H399.6ZM409.1,926.9H412.9V952.5H409.1ZM442.0,926.3H445.8V952.5H442.0ZM440.7,925.0H446.6V928.8H440.7ZM461.7,926.3H465.5V952.5H461.7ZM461.7,925.0H469.8V928.8H461.7ZM479.3,926.3H483.1V952.5H479.3ZM380.7,985.7H486.6V989.5H380.7ZM407.2,984.9H411.0V989.0H407.2ZM380.7,997.9H415.0V1001.7H380.7ZM411.8,989.0H415.6V1001.1H411.8ZM386.1,999.8H389.9V1025.4H386.1ZM352.4,998.4H356.2V1030.8H352.4ZM254.7,942.5H258.4V1031.6H254.7ZM254.9,942.0H276.0V945.8H254.9ZM294.9,942.0H308.9V945.8H294.9ZM306.0,942.5H309.7V1031.6H306.0ZM254.9,1029.8H360.2V1033.5H254.9ZM241.4,1013.3H257.1V1024.6H241.4ZM357.0,1030.8H360.8V1067.3H357.0ZM254.9,898.8H275.4V902.6H254.9ZM302.2,898.8H315.7V902.6H302.2ZM241.4,905.3H254.9V910.7H241.4ZM254.9,856.4H274.6V859.7H254.9ZM254.1,1087.5H259.0V1198.2H254.1ZM256.5,1090.5H312.4V1095.4H256.5ZM340.8,1091.0H384.0V1094.8H340.8ZM342.9,1092.9H348.3V1109.1H342.9ZM242.2,1127.2H256.5V1132.6H242.2ZM379.4,1053.8H383.2V1184.7H379.4ZM378.6,1051.3H436.6V1057.3H378.6ZM463.1,1051.3H482.5V1057.3H463.1ZM477.9,1053.8H482.8V1198.2H477.9ZM481.2,1030.8H483.9V1049.7H481.2ZM381.3,1073.2H412.3V1078.6H381.3ZM407.5,1105.1H438.5V1110.5H407.5ZM271.4,1163.9H306.2V1167.7H271.4ZM302.4,1165.8H306.2V1183.4H302.4ZM256.5,1163.9H261.9V1167.7H256.5ZM343.2,1165.0H349.1V1183.4H343.2ZM384.0,1166.1H395.3V1169.9H384.0ZM391.5,1168.0H395.3V1183.4H391.5ZM431.8,1166.1H457.4V1169.9H431.8ZM431.5,1168.0H435.3V1183.4H431.5ZM466.3,1166.1H483.3V1169.9H466.3ZM256.5,1181.7H483.3V1186.1H256.5ZM367.8,1183.9H373.2V1198.2H367.8ZM241.4,1237.4H254.9V1242.8H241.4ZM146.4,905.8H159.4V910.7H146.4ZM146.4,1013.3H159.4V1024.1H146.4ZM146.4,1127.5H159.4V1132.6H146.4ZM146.4,1236.8H159.4V1242.0H146.4ZM255.7,1222.5H261.1V1235.2H255.7ZM368.6,1222.5H374.0V1235.2H368.6ZM479.8,1222.5H485.2V1235.2H479.8ZM486.6,1217.9H492.0V1231.4H486.6ZM255.7,1280.6H261.1V1293.5H255.7ZM368.6,1280.6H374.0V1293.5H368.6ZM480.4,1280.0H492.0V1292.7H480.4ZM485.8,1059.2H490.6V1072.7H485.8ZM485.8,1122.6H490.6V1135.6H485.8ZM706.1,49.9H707.9V86.4H706.1ZM725.5,49.9H727.4V86.4H725.5ZM745.1,49.9H748.8V143.1H745.1ZM762.7,49.9H764.6V86.4H762.7ZM799.7,49.9H801.6V86.4H799.7ZM820.8,49.9H822.7V86.4H820.8ZM840.2,49.9H842.1V86.4H840.2ZM860.5,49.9H862.4V86.4H860.5ZM881.0,49.9H882.9V86.4H881.0ZM900.4,49.9H902.3V86.4H900.4ZM920.1,49.9H922.0V86.4H920.1ZM940.4,49.9H942.3V86.4H940.4ZM960.6,49.9H962.5V86.4H960.6ZM981.4,49.9H983.3V86.4H981.4ZM1001.1,49.9H1003.0V86.4H1001.1ZM1021.4,49.9H1023.3V86.4H1021.4ZM1041.6,49.9H1043.5V86.4H1041.6ZM1060.5,49.9H1062.4V86.4H1060.5ZM1081.3,49.9H1083.2V86.4H1081.3ZM1100.6,49.9H1104.4V143.1H1100.6ZM1127.2,49.9H1129.1V86.4H1127.2ZM1142.1,49.9H1144.0V86.4H1142.1ZM1167.2,49.9H1169.1V86.4H1167.2ZM1186.6,49.9H1188.5V86.4H1186.6ZM701.6,85.4H708.3V87.3H701.6ZM720.5,85.4H728.6V87.3H720.5ZM738.0,85.4H747.0V87.3H738.0ZM762.3,85.4H783.9V87.3H762.3ZM794.7,85.4H801.5V87.3H794.7ZM820.4,85.4H825.8V87.3H820.4ZM836.0,85.4H844.7V87.3H836.0ZM855.5,85.4H863.6V87.3H855.5ZM877.1,85.4H884.6V87.3H877.1ZM896.0,85.4H905.4V87.3H896.0ZM917.0,85.4H924.3V87.3H917.0ZM936.5,85.4H945.9V87.3H936.5ZM958.1,85.4H963.5V87.3H958.1ZM977.0,85.4H985.1V87.3H977.0ZM997.2,85.4H1004.0V87.3H997.2ZM1017.5,85.4H1025.6V87.3H1017.5ZM1037.7,85.4H1044.5V87.3H1037.7ZM1058.0,85.4H1064.7V87.3H1058.0ZM1076.9,85.4H1085.0V87.3H1076.9ZM1095.8,85.4H1112.0V87.3H1095.8ZM1122.8,85.4H1129.5V87.3H1122.8ZM1141.7,85.4H1153.8V87.3H1141.7ZM1166.0,85.4H1169.2V87.3H1166.0ZM1186.2,85.4H1200.0V87.3H1186.2ZM694.8,49.9H701.1V52.6H694.8ZM782.1,49.9H789.3V52.6H782.1ZM872.2,49.9H882.5V53.5H872.2ZM964.8,49.9H971.6V53.5H964.8ZM1056.1,49.9H1062.0V53.5H1056.1ZM1146.5,49.9H1152.5V53.5H1146.5ZM690.3,102.5H704.3V104.3H690.3ZM715.1,102.5H727.2V104.3H715.1ZM738.0,102.5H744.8V104.3H738.0ZM767.7,102.5H773.1V104.3H767.7ZM781.2,102.5H793.4V104.3H781.2ZM802.8,102.5H809.6V104.3H802.8ZM848.7,102.5H854.1V104.3H848.7ZM864.9,102.5H896.0V104.3H864.9ZM906.8,102.5H914.9V104.3H906.8ZM924.3,102.5H935.1V104.3H924.3ZM945.9,102.5H955.4V104.3H945.9ZM966.2,102.5H995.9V104.3H966.2ZM1006.1,102.5H1012.1V104.3H1006.1ZM1031.0,102.5H1036.4V104.3H1031.0ZM1047.2,102.5H1064.7V104.3H1047.2ZM1076.9,102.5H1085.0V104.3H1076.9ZM1099.8,102.5H1106.6V104.3H1099.8ZM1116.0,102.5H1128.2V104.3H1116.0ZM1147.1,102.5H1153.8V104.3H1147.1ZM1161.9,102.5H1169.2V104.3H1161.9ZM695.8,103.4H697.7V143.1H695.8ZM721.4,103.4H723.3V143.1H721.4ZM768.1,103.4H770.0V143.1H768.1ZM788.4,103.4H790.3V143.1H788.4ZM808.1,103.4H810.0V143.1H808.1ZM849.1,103.4H851.0V143.1H849.1ZM881.5,103.4H883.4V143.1H881.5ZM909.1,103.4H911.0V143.1H909.1ZM929.6,103.4H931.5V143.1H929.6ZM949.8,103.4H951.7V143.1H949.8ZM970.6,103.4H972.5V143.1H970.6ZM990.1,103.4H992.0V143.1H990.1ZM1010.6,103.4H1012.5V143.1H1010.6ZM1031.4,103.4H1033.3V143.1H1031.4ZM1057.0,103.4H1058.9V143.1H1057.0ZM1081.3,103.4H1083.2V143.1H1081.3ZM1127.2,103.4H1129.1V143.1H1127.2ZM1147.5,103.4H1149.4V143.1H1147.5ZM1167.2,103.4H1169.1V143.1H1167.2ZM680.0,141.9H831.2V144.3H680.0ZM846.0,141.9H1013.4V144.3H846.0ZM1028.3,141.9H1186.2V144.3H1028.3ZM1197.0,141.9H1200.0V144.3H1197.0ZM694.8,106.6H701.6V120.1H694.8ZM784.8,106.6H790.7V120.1H784.8ZM872.2,106.6H883.0V120.1H872.2ZM965.6,106.6H971.6V120.1H965.6ZM1056.6,106.6H1062.8V120.1H1056.6ZM1147.9,106.6H1153.8V120.1H1147.9ZM694.8,172.0H701.6V186.3H694.8ZM783.9,172.0H790.7V186.3H783.9ZM872.2,172.0H883.8V185.7H872.2ZM964.8,172.0H971.6V186.3H964.8ZM1056.1,172.0H1062.8V186.3H1056.1ZM1147.1,170.9H1153.5V186.3H1147.1ZM1148.4,185.2H1168.7V189.0H1148.4ZM680.0,185.7H844.1V189.5H680.0ZM698.4,187.6H702.1V263.2H698.4ZM701.6,205.5H726.4V209.2H701.6ZM723.2,202.5H727.0V209.2H723.2ZM701.6,225.4H726.4V229.2H701.6ZM723.2,224.1H727.0V230.8H723.2ZM723.2,248.4H727.0V271.3H723.2ZM680.0,261.3H726.4V265.1H680.0ZM688.1,265.9H691.9V290.2H688.1ZM688.1,287.0H735.3V290.8H688.1ZM723.2,283.5H727.0V288.9H723.2ZM755.6,189.0H759.4V292.9H755.6ZM750.7,287.0H758.3V290.8H750.7ZM758.3,265.4H787.5V269.2H758.3ZM784.2,267.3H788.0V290.2H784.2ZM786.1,281.0H798.3V284.8H786.1ZM795.0,275.9H798.8V283.5H795.0ZM796.1,274.8H807.4V278.6H796.1ZM834.4,274.8H843.3V278.6H834.4ZM840.1,187.6H843.9V278.1H840.1ZM709.2,290.2H712.9V340.2H709.2ZM680.0,316.1H757.5V319.9H680.0ZM754.5,310.5H758.3V318.6H754.5ZM759.1,311.3H771.8V315.1H759.1ZM885.7,185.7H1110.6V189.5H885.7ZM885.5,189.0H889.2V211.9H885.5ZM885.5,223.5H889.2V245.7H885.5ZM885.5,258.6H889.2V373.9H885.5ZM929.2,189.0H933.0V206.5H929.2ZM887.9,228.9H1016.1V232.7H887.9ZM1014.2,189.0H1018.0V290.2H1014.2ZM987.8,265.9H1016.1V269.7H987.8ZM987.2,267.8H991.0V290.2H987.2ZM974.3,282.9H989.1V286.7H974.3ZM944.0,282.9H956.7V286.7H944.0ZM1018.8,287.5H1022.6V314.5H1018.8ZM1014.8,287.0H1022.3V290.8H1014.8ZM849.5,296.4H887.3V300.2H849.5ZM849.0,298.3H852.8V319.9H849.0ZM797.4,311.3H851.4V315.1H797.4ZM796.9,313.2H800.7V340.2H796.9ZM796.9,353.7H800.7V373.9H796.9ZM791.2,365.8H977.0V369.6H791.2ZM921.1,297.0H924.9V313.2H921.1ZM887.9,311.3H977.0V315.1H887.9ZM974.3,313.2H978.1V334.8H974.3ZM976.2,314.0H1073.6V317.8H976.2ZM1070.4,310.5H1074.2V317.2H1070.4ZM1038.0,310.5H1041.8V345.6H1038.0ZM974.3,361.8H978.1V372.6H974.3ZM974.3,370.1H1041.8V373.9H974.3ZM1038.0,358.5H1041.8V372.6H1038.0ZM1006.1,372.0H1009.9V415.8H1006.1ZM1071.7,189.0H1075.5V263.2H1071.7ZM1046.4,205.5H1073.6V209.2H1046.4ZM1045.8,202.5H1049.6V207.9H1045.8ZM1046.4,225.4H1073.6V229.2H1046.4ZM1045.8,224.6H1049.6V230.0H1045.8ZM1045.8,248.4H1049.6V264.6H1045.8ZM1046.4,261.3H1089.8V265.1H1046.4ZM1081.7,264.0H1085.5V290.2H1081.7ZM1039.1,287.0H1085.0V290.8H1039.1ZM1070.4,288.9H1074.2V294.3H1070.4ZM1107.4,187.6H1111.2V290.2H1107.4ZM1104.4,260.8H1121.4V264.6H1104.4ZM1118.2,262.7H1122.0V283.5H1118.2ZM1118.7,281.0H1152.5V284.8H1118.7ZM1045.8,248.4H1049.6V271.6H1045.8ZM1046.1,284.0H1050.4V288.3H1046.1ZM1046.1,189.0H1050.7V193.8H1046.1ZM1070.1,189.0H1075.5V209.8H1070.1ZM1165.4,287.5H1169.2V316.4H1165.4ZM1167.3,306.4H1186.2V310.2H1167.3ZM1088.2,311.3H1100.6V315.1H1088.2ZM1137.1,310.5H1140.9V334.8H1137.1ZM1137.1,361.8H1140.9V373.9H1137.1ZM1137.1,396.1H1140.9V415.8H1137.1ZM1139.8,417.1H1145.7V430.6H1139.8ZM1092.5,396.1H1096.3V415.8H1092.5ZM1038.0,396.1H1041.8V415.8H1038.0ZM1026.4,417.9H1037.7V430.6H1026.4ZM1197.8,185.2H1200.0V189.0H1197.8ZM1197.0,412.5H1200.0V416.3H1197.0ZM709.2,361.8H712.9V415.8H709.2ZM711.0,365.8H726.4V369.6H711.0ZM747.5,365.8H778.5V369.6H747.5ZM771.3,367.7H775.0V415.8H771.3ZM751.0,396.1H754.8V415.8H751.0ZM796.9,393.4H800.7V415.8H796.9ZM840.9,394.2H844.7V415.8H840.9ZM886.0,394.2H889.8V415.8H886.0ZM930.0,394.2H933.8V415.8H930.0ZM974.3,394.2H978.1V415.8H974.3ZM709.2,412.0H1009.9V416.8H709.2ZM702.9,417.1H708.9V430.6H702.9ZM811.5,417.1H816.9V430.6H811.5ZM921.1,417.1H926.5V430.6H921.1ZM702.9,496.2H708.9V509.7H702.9ZM812.3,496.2H817.7V509.7H812.3ZM920.3,496.2H925.7V509.7H920.3ZM1140.3,496.2H1145.7V509.7H1140.3ZM1186.6,49.9H1188.5V86.4H1186.6ZM1206.1,49.9H1207.9V86.4H1206.1ZM1227.1,49.9H1229.0V86.4H1227.1ZM1247.4,49.9H1249.2V86.4H1247.4ZM1267.6,49.9H1269.5V86.4H1267.6ZM1288.4,49.9H1290.3V86.4H1288.4ZM1308.6,49.9H1310.5V86.4H1308.6ZM1328.9,49.9H1330.8V86.4H1328.9ZM1348.6,49.9H1350.5V86.4H1348.6ZM1368.8,49.9H1370.7V86.4H1368.8ZM1186.7,85.4H1193.5V87.3H1186.7ZM1203.8,85.4H1215.1V87.3H1203.8ZM1224.5,85.4H1234.0V87.3H1224.5ZM1243.4,85.4H1252.9V87.3H1243.4ZM1263.7,85.4H1273.1V87.3H1263.7ZM1283.9,85.4H1293.4V87.3H1283.9ZM1302.8,85.4H1313.6V87.3H1302.8ZM1324.4,85.4H1333.9V87.3H1324.4ZM1343.3,85.4H1352.8V87.3H1343.3ZM1363.6,85.4H1374.4V87.3H1363.6ZM1383.0,85.4H1385.2V87.3H1383.0ZM1238.0,49.9H1244.8V53.5H1238.0ZM1329.8,49.9H1335.2V53.5H1329.8ZM1201.1,102.5H1208.3V104.3H1201.1ZM1216.4,102.5H1225.4V104.3H1216.4ZM1235.3,102.5H1244.8V104.3H1235.3ZM1256.1,102.5H1265.0V104.3H1256.1ZM1274.5,102.5H1293.4V104.3H1274.5ZM1311.7,102.5H1317.7V104.3H1311.7ZM1327.1,102.5H1339.3V104.3H1327.1ZM1350.1,102.5H1360.3V104.3H1350.1ZM1371.1,102.5H1385.2V104.3H1371.1ZM1201.2,103.4H1203.1V143.1H1201.2ZM1221.4,103.4H1223.3V143.1H1221.4ZM1242.0,103.4H1243.8V143.1H1242.0ZM1262.2,103.4H1264.1V143.1H1262.2ZM1291.9,103.4H1293.8V143.1H1291.9ZM1312.2,103.4H1314.0V143.1H1312.2ZM1332.9,103.4H1334.8V143.1H1332.9ZM1357.2,103.4H1359.1V143.1H1357.2ZM1180.0,141.9H1186.7V144.3H1180.0ZM1199.4,141.9H1296.1V144.3H1199.4ZM1311.5,141.9H1385.2V144.3H1311.5ZM1238.0,106.6H1244.0V120.1H1238.0ZM1329.3,106.6H1334.7V120.1H1329.3ZM1238.9,172.0H1244.8V185.7H1238.9ZM1329.8,172.0H1335.8V185.7H1329.8ZM1198.1,184.9H1218.6V188.7H1198.1ZM1214.3,235.7H1238.9V239.5H1214.3ZM1235.3,237.6H1239.1V249.7H1235.3ZM1238.0,248.9H1244.0V262.4H1238.0ZM1234.0,265.9H1237.8V326.7H1234.0ZM1234.0,326.1H1244.0V339.6H1234.0ZM1329.8,248.4H1335.8V261.3H1329.8ZM1356.8,326.1H1362.8V339.6H1356.8ZM1180.0,306.4H1186.7V310.2H1180.0ZM1205.1,306.4H1218.6V310.2H1205.1ZM1234.0,358.3H1237.8V371.2H1234.0ZM1214.3,367.4H1237.5V371.2H1214.3ZM1238.0,396.9H1243.4V423.9H1238.0ZM1197.0,412.5H1217.8V416.3H1197.0ZM1356.8,396.9H1362.8V423.9H1356.8ZM1465.4,395.5H1470.8V423.3H1465.4ZM1471.6,382.0H1477.0V395.5H1471.6ZM1580.1,382.0H1585.8V395.5H1580.1ZM1688.1,382.0H1693.8V395.5H1688.1ZM1471.6,444.9H1477.0V458.4H1471.6ZM1580.1,444.9H1585.8V458.4H1580.1ZM1688.1,444.9H1693.8V458.4H1688.1ZM1248.0,496.2H1253.4V509.7H1248.0ZM1356.8,496.2H1362.8V509.7H1356.8ZM1465.4,495.4H1477.0V509.7H1465.4ZM1579.6,496.2H1585.8V509.7H1579.6ZM1688.9,496.2H1694.3V509.7H1688.9ZM1580.1,381.7H1585.4V395.8H1580.1ZM1688.4,381.7H1693.7V395.8H1688.4ZM1763.2,381.7H1768.5V395.8H1763.2ZM1838.3,381.7H1844.1V395.8H1838.3ZM1580.1,445.4H1585.4V458.7H1580.1ZM1688.4,445.4H1693.7V458.7H1688.4ZM1763.2,445.4H1768.5V458.7H1763.2ZM1838.3,445.4H1844.1V458.7H1838.3ZM1580.1,496.6H1585.4V509.1H1580.1ZM1688.4,496.6H1693.7V509.1H1688.4ZM1763.2,496.6H1768.5V509.1H1763.2ZM1838.3,496.6H1844.1V509.1H1838.3ZM1579.6,590.8H1584.9V604.6H1579.6ZM1688.4,590.8H1693.7V604.6H1688.4ZM1763.2,590.8H1768.5V604.6H1763.2ZM1838.3,590.8H1844.1V604.6H1838.3ZM1579.6,657.7H1584.9V671.7H1579.6ZM1688.4,657.7H1693.7V671.7H1688.4ZM1763.2,657.7H1768.5V671.7H1763.2ZM1838.3,657.7H1844.1V671.7H1838.3ZM1579.6,702.4H1584.9V716.9H1579.6ZM1688.4,701.6H1693.7V715.6H1688.4ZM1763.2,702.4H1768.5V715.6H1763.2ZM1838.3,702.4H1844.1V716.9H1838.3ZM1550.9,716.7H1733.0V720.9H1550.9ZM1552.5,718.8H1556.2V827.1H1552.5ZM1729.5,718.8H1733.2V790.7H1729.5ZM1547.2,823.9H1687.1V827.6H1547.2ZM1545.9,724.9H1551.7V738.7H1545.9ZM1545.6,820.4H1551.2V833.7H1545.6ZM1664.2,764.2H1670.1V791.2H1664.2ZM1652.0,789.9H1679.9V793.6H1652.0ZM1651.2,811.1H1657.9V825.7H1651.2ZM1682.5,807.9H1688.9V835.0H1682.5ZM1677.2,833.7H1738.8V839.0H1677.2ZM1729.0,818.3H1733.7V835.0H1729.0ZM1778.1,718.3H1781.8V748.8H1778.1ZM1778.1,716.7H1789.2V722.5H1778.1ZM1777.3,777.4H1781.0V797.9H1777.3ZM1781.8,796.0H1789.7V803.2H1781.8ZM1761.3,835.0H1781.8V838.7H1761.3ZM1781.2,857.0H1789.2V863.7H1781.2ZM1760.5,899.5H1782.6V903.2H1760.5ZM1781.2,897.4H1789.2V904.8H1781.2ZM1825.3,716.9H1828.5V910.1H1825.3ZM1825.8,716.9H1926.6V720.7H1825.8ZM1853.7,718.8H1860.0V723.6H1853.7ZM1866.9,720.9H1869.1V801.8H1866.9ZM1826.9,736.3H1868.8V738.4H1826.9ZM1826.9,759.1H1868.8V761.3H1826.9ZM1826.9,778.8H1868.8V780.9H1826.9ZM1826.9,799.2H1868.8V801.8H1826.9ZM1853.7,796.5H1860.0V801.8H1853.7ZM1866.9,821.7H1869.1V905.3H1866.9ZM1826.9,821.5H1868.8V823.6H1826.9ZM1826.9,857.3H1868.8V859.4H1826.9ZM1853.7,858.4H1860.0V863.7H1853.7ZM1826.9,879.1H1868.8V881.2H1826.9ZM1826.9,901.6H1868.8V903.7H1826.9ZM1853.7,898.7H1860.0V904.0H1853.7ZM1886.8,741.6H1889.0V930.5H1886.8ZM1887.9,741.1H1926.6V743.2H1887.9ZM1887.9,763.6H1926.6V765.8H1887.9ZM1887.9,786.2H1926.6V788.3H1887.9ZM1887.9,808.7H1926.6V810.9H1887.9ZM1887.9,831.3H1926.6V833.4H1887.9ZM1887.9,856.5H1926.6V858.6H1887.9ZM1887.9,880.4H1926.6V882.5H1887.9ZM1887.9,902.4H1926.6V904.5H1887.9ZM1825.0,922.6H1828.7V930.5H1825.0ZM1781.8,929.2H1933.8V932.9H1781.8ZM1781.5,931.1H1785.2V957.1H1781.5ZM1761.3,940.1H1782.6V943.8H1761.3ZM1551.7,855.7H1627.4V859.4H1551.7ZM1551.2,857.6H1554.9V951.8H1551.2ZM1625.0,845.6H1628.7V860.2H1625.0ZM1624.7,844.3H1654.7V848.0H1624.7ZM1627.4,855.7H1654.7V859.4H1627.4ZM1543.8,868.2H1553.1V896.8H1543.8ZM1551.7,888.9H1628.7V892.6H1551.7ZM1626.3,874.3H1630.0V919.9H1626.3ZM1628.2,881.4H1654.7V885.2H1628.2ZM1651.2,883.3H1654.9V917.3H1651.2ZM1553.1,892.1H1556.8V919.9H1553.1ZM1569.8,893.4H1573.5V919.9H1569.8ZM1553.1,917.3H1557.0V921.0H1553.1ZM1566.9,917.3H1573.8V921.0H1566.9ZM1588.9,917.3H1595.5V921.0H1588.9ZM1588.9,893.4H1592.6V919.9H1588.9ZM1613.3,917.3H1635.3V921.0H1613.3ZM1648.6,917.3H1653.9V921.0H1648.6ZM1651.2,919.1H1654.9V951.8H1651.2ZM1653.9,893.4H1659.7V897.1H1653.9ZM1677.2,893.4H1683.1V897.1H1677.2ZM1680.7,866.3H1684.4V951.8H1680.7ZM1683.1,899.0H1719.7V902.7H1683.1ZM1551.7,949.1H1683.6V952.8H1551.7ZM1545.6,953.1H1550.9V966.9H1545.6ZM1628.7,953.1H1632.4V958.4H1628.7ZM1651.5,953.1H1655.2V958.4H1651.5ZM1628.7,969.0H1632.4V974.3H1628.7ZM1651.5,969.0H1655.2V974.3H1651.5ZM1550.9,974.0H1785.2V977.2H1550.9ZM1781.8,970.3H1789.2V977.8H1781.8ZM1551.7,1034.3H1858.2V1038.0H1551.7ZM1782.6,1036.7H1790.5V1043.8H1782.6ZM1853.7,1036.1H1860.0V1043.8H1853.7ZM1853.7,970.3H1860.0V977.8H1853.7ZM1855.5,973.8H1926.6V977.5H1855.5ZM1854.5,975.6H1858.2V1038.0H1854.5ZM1783.1,977.0H1784.7V1035.3H1783.1ZM1552.0,1035.3H1555.7V1151.0H1552.0ZM1651.2,1036.1H1654.9V1047.3H1651.2ZM1651.2,1044.1H1678.6V1047.8H1651.2ZM1670.6,1045.9H1674.3V1123.4H1670.6ZM1636.6,1079.1H1704.3V1082.8H1636.6ZM1726.3,1079.1H1740.1V1082.8H1726.3ZM1762.1,1079.1H1781.2V1082.8H1762.1ZM1783.4,1084.4H1793.2V1091.8H1783.4ZM1545.6,1059.2H1550.9V1072.5H1545.6ZM1545.6,1122.4H1550.9V1136.2H1545.6ZM1554.4,1079.1H1603.5V1082.8H1554.4ZM1600.3,1081.0H1604.0V1151.0H1600.3ZM1554.4,1123.2H1571.6V1126.9H1554.4ZM1603.5,1123.2H1609.6V1126.9H1603.5ZM1621.5,1123.2H1695.8V1126.9H1621.5ZM1708.3,1123.2H1720.2V1126.9H1708.3ZM1733.7,1101.7H1738.5V1125.5H1733.7ZM1733.5,1100.3H1847.6V1104.0H1733.5ZM1717.8,1125.0H1720.0V1151.0H1717.8ZM1761.3,1120.8H1786.5V1125.0H1761.3ZM1781.5,1122.9H1786.3V1151.0H1781.5ZM1785.2,1130.3H1795.8V1136.7H1785.2ZM1853.7,1082.6H1860.0V1085.7H1853.7ZM1552.0,1040.0H1555.7V1178.0H1552.0ZM1554.4,1163.6H1575.6V1167.4H1554.4ZM1595.0,1163.6H1603.5V1167.4H1595.0ZM1600.3,1079.8H1604.0V1166.8H1600.3ZM1651.2,1146.1H1654.9V1159.4H1651.2ZM1715.2,1124.9H1718.9V1201.8H1715.2ZM1714.9,1197.6H1786.5V1202.4H1714.9ZM1780.4,1122.2H1786.3V1302.7H1780.4ZM1762.1,1121.5H1786.5V1125.7H1762.1ZM1785.2,1130.2H1795.8V1136.8H1785.2ZM1785.2,1175.3H1795.8V1181.9H1785.2ZM1708.3,1169.2H1716.2V1173.5H1708.3ZM1785.2,1221.2H1795.8V1227.8H1785.2ZM1763.2,1218.8H1783.9V1224.7H1763.2ZM1785.2,1264.2H1795.8V1270.8H1785.2ZM1763.2,1258.6H1783.9V1264.5H1763.2ZM1687.1,1299.0H1786.5V1303.7H1687.1ZM1683.3,1170.0H1688.1V1353.1H1683.3ZM1677.2,1169.2H1690.5V1173.5H1677.2ZM1678.3,1184.9H1685.7V1188.6H1678.3ZM1687.1,1171.3H1689.7V1229.7H1687.1ZM1687.1,1258.4H1731.6V1264.7H1687.1ZM1677.2,1348.3H1786.0V1353.6H1677.2ZM1781.8,1312.0H1795.8V1319.4H1781.8ZM1783.4,1355.2H1795.8V1361.8H1783.4ZM1781.8,1395.5H1795.8V1402.7H1781.8ZM1779.1,1406.1H1785.8V1428.7H1779.1ZM1552.3,1208.7H1656.5V1212.5H1552.3ZM1552.0,1209.8H1555.7V1380.9H1552.0ZM1630.8,1185.4H1634.5V1210.6H1630.8ZM1631.3,1184.6H1659.7V1188.3H1631.3ZM1653.1,1210.6H1657.1V1217.2H1653.1ZM1652.6,1234.2H1656.3V1244.3H1652.6ZM1653.4,1244.3H1655.5V1286.7H1653.4ZM1567.7,1241.9H1575.6V1245.6H1567.7ZM1571.9,1241.6H1575.6V1268.2H1571.9ZM1590.2,1241.9H1596.8V1245.6H1590.2ZM1590.2,1243.0H1593.9V1268.2H1590.2ZM1615.4,1241.9H1638.0V1245.6H1615.4ZM1627.6,1243.0H1631.3V1281.4H1627.6ZM1649.9,1241.9H1655.2V1245.6H1649.9ZM1554.4,1266.3H1630.0V1270.0H1554.4ZM1628.2,1279.1H1655.2V1282.8H1628.2ZM1554.4,1303.7H1685.7V1306.9H1554.4ZM1652.6,1300.0H1656.3V1305.3H1652.6ZM1545.6,1217.8H1550.9V1230.5H1545.6ZM1545.6,1280.9H1550.9V1293.4H1545.6ZM1545.6,1349.1H1550.9V1362.4H1545.6ZM1625.0,1306.6H1628.7V1318.1H1625.0ZM1625.2,1313.5H1660.0V1318.3H1625.2ZM1656.0,1306.6H1659.7V1318.1H1656.0ZM1652.0,1337.2H1658.7V1353.6H1652.0ZM1652.0,1373.5H1683.1V1377.8H1652.0ZM1666.1,1375.6H1671.9V1403.0H1666.1ZM1552.3,1377.8H1570.3V1382.5H1552.3ZM1565.0,1375.6H1570.3V1382.8H1565.0ZM1565.0,1408.0H1570.3V1416.8H1565.0ZM1552.3,1411.7H1569.5V1416.5H1552.3ZM1552.0,1412.8H1557.8V1443.3H1552.0ZM1026.2,1059.4H1037.8V1072.9H1026.2ZM1140.4,1059.4H1145.8V1072.4H1140.4ZM1248.4,1059.4H1253.8V1072.4H1248.4ZM1357.7,1059.4H1363.1V1072.4H1357.7ZM1465.2,1059.4H1471.1V1072.4H1465.2ZM1026.2,1122.3H1037.8V1135.8H1026.2ZM1140.4,1122.3H1145.8V1135.8H1140.4ZM1248.4,1122.3H1253.8V1135.8H1248.4ZM1357.7,1122.3H1363.1V1135.8H1357.7ZM1465.2,1122.3H1471.1V1135.8H1465.2ZM1026.2,1217.6H1036.4V1230.3H1026.2ZM1140.4,1217.6H1145.8V1231.1H1140.4ZM1248.4,1217.6H1253.8V1231.1H1248.4ZM1357.7,1217.6H1363.1V1231.1H1357.7ZM1465.2,1217.6H1471.1V1231.1H1465.2ZM1026.2,1280.8H1037.8V1293.8H1026.2ZM1140.4,1281.1H1145.8V1293.8H1140.4ZM1248.4,1281.1H1253.8V1293.8H1248.4ZM1356.4,1281.1H1361.8V1293.8H1356.4ZM1465.2,1281.1H1471.1V1293.8H1465.2ZM1026.2,1350.5H1037.8V1363.4H1026.2ZM1140.4,1349.9H1145.8V1363.4H1140.4ZM1248.4,1349.9H1253.8V1363.4H1248.4ZM1357.7,1349.9H1363.1V1363.4H1357.7ZM1465.2,1349.9H1471.1V1363.4H1465.2ZM1026.2,1444.2H1037.8V1458.5H1026.2ZM1140.4,1444.2H1145.8V1458.5H1140.4ZM1248.4,1444.2H1253.8V1458.5H1248.4ZM1358.3,1444.2H1363.7V1458.5H1358.3ZM1465.2,1444.2H1471.1V1458.5H1465.2ZM1000.0,1457.7H1208.7V1462.0H1000.0ZM1222.2,1457.7H1372.6V1462.0H1222.2ZM1019.7,1461.2H1023.5V1560.0H1019.7ZM1105.3,1461.2H1109.1V1560.0H1105.3ZM1162.8,1461.2H1166.6V1535.4H1162.8ZM1138.2,1474.7H1164.7V1480.1H1138.2ZM1137.7,1461.2H1141.5V1465.2H1137.7ZM1138.2,1497.1H1164.7V1500.9H1138.2ZM1137.7,1497.6H1141.5V1501.7H1137.7ZM1137.7,1520.6H1141.5V1536.8H1137.7ZM1138.2,1534.3H1202.5V1538.1H1138.2ZM1174.9,1536.8H1178.7V1560.0H1174.9ZM1199.2,1461.2H1203.0V1513.8H1199.2ZM1199.2,1534.1H1203.0V1560.0H1199.2ZM1201.1,1553.0H1231.6V1558.4H1201.1ZM1227.6,1549.7H1231.4V1560.0H1227.6ZM1227.1,1461.2H1231.9V1534.1H1227.1ZM1084.2,1534.9H1107.2V1538.7H1084.2ZM1084.5,1536.8H1088.3V1560.0H1084.5ZM1309.7,1500.9H1338.8V1507.9H1309.7ZM1308.9,1504.4H1315.9V1539.5H1308.9ZM1277.0,1534.1H1282.9V1560.0H1277.0ZM1368.5,1501.1H1383.4V1507.9H1368.5ZM1368.5,1548.1H1383.4V1554.8H1368.5ZM1368.5,1459.8H1373.9V1473.3H1368.5ZM1368.5,1469.3H1383.4V1473.0H1368.5ZM704.4,1444.0H709.8V1457.5H704.4ZM811.1,1444.0H817.0V1457.5H811.1ZM921.2,1444.0H926.6V1458.9H921.2ZM1026.5,1444.0H1037.9V1459.4H1026.5ZM655.8,1460.2H816.5V1465.1H655.8ZM656.1,1462.6H661.0V1603.8H656.1ZM811.9,1462.6H816.7V1525.5H811.9ZM794.9,1521.0H816.5V1525.8H794.9ZM794.3,1523.4H799.2V1562.0H794.3ZM757.1,1558.2H798.9V1564.1H757.1ZM759.0,1537.1H764.9V1562.0H759.0ZM697.7,1464.8H701.5V1479.6H697.7ZM672.0,1476.7H701.7V1481.0H672.0ZM656.7,1476.9H662.6V1480.7H656.7ZM658.5,1502.1H678.0V1507.5H658.5ZM658.5,1547.1H745.7V1551.5H658.5ZM742.2,1549.3H746.0V1603.8H742.2ZM655.8,1600.3H688.2V1604.6H655.8ZM684.5,1589.0H688.2V1603.8H684.5ZM705.8,1600.3H745.7V1604.6H705.8ZM705.2,1589.0H709.0V1603.8H705.2ZM603.2,1445.9H608.6V1459.4H603.2ZM649.1,1459.9H655.0V1473.4H649.1ZM561.9,1459.9H567.3V1472.9H561.9ZM649.1,1507.5H655.0V1520.1H649.1ZM561.3,1507.5H566.7V1520.1H561.3ZM649.1,1583.6H655.0V1596.5H649.1ZM561.3,1583.6H566.7V1596.5H561.3ZM840.8,1457.5H1080.0V1461.3H840.8ZM840.2,1459.4H844.0V1563.3H840.2ZM814.3,1552.8H842.1V1557.7H814.3ZM840.8,1533.6H846.2V1539.0H840.8ZM876.4,1460.7H880.7V1535.0H876.4ZM878.6,1477.8H905.6V1481.5H878.6ZM902.3,1476.9H906.1V1481.0H902.3ZM878.6,1495.6H906.9V1499.9H878.6ZM902.3,1497.7H906.1V1502.6H902.3ZM902.3,1461.6H906.1V1466.1H902.3ZM902.3,1521.5H906.1V1543.1H902.3ZM859.1,1533.1H905.6V1536.9H859.1ZM863.7,1535.0H867.5V1562.0H863.7ZM864.5,1559.6H901.5V1563.3H864.5ZM898.3,1555.2H902.1V1567.4H898.3ZM901.5,1559.6H912.3V1563.3H901.5ZM934.2,1460.7H938.0V1592.2H934.2ZM929.3,1559.6H936.6V1563.3H929.3ZM936.6,1539.0H958.2V1542.8H936.6ZM955.0,1540.9H958.8V1564.7H955.0ZM955.5,1562.0H979.8V1565.8H955.5ZM943.9,1584.4H957.7V1588.2H943.9ZM859.1,1589.0H937.4V1592.8H859.1ZM898.3,1583.6H902.1V1590.9H898.3ZM796.2,1587.1H831.3V1590.9H796.2ZM796.2,1589.0H800.0V1637.0H796.2ZM1020.3,1460.7H1024.1V1604.6H1020.3ZM1007.4,1560.1H1037.9V1563.9H1007.4ZM1064.3,1560.1H1080.0V1563.9H1064.3ZM1022.2,1458.0H1080.0V1465.1H1022.2ZM655.8,1632.2H659.6V1645.7H655.8ZM794.9,1670.0H798.7V1688.9H794.9ZM884.8,1670.0H888.6V1688.9H884.8ZM926.6,1627.3H930.4V1640.3H926.6ZM926.6,1671.3H930.4V1690.2H926.6ZM969.8,1671.3H973.6V1690.2H969.8ZM1020.3,1630.8H1024.1V1643.0H1020.3ZM1020.3,1671.3H1024.1V1690.2H1020.3ZM1069.2,1670.0H1073.0V1690.2H1069.2ZM743.6,1686.2H762.5V1690.0H743.6ZM832.1,1686.2H851.6V1690.0H832.1ZM650.4,1678.1H655.8V1687.5H650.4ZM651.8,1686.2H673.4V1690.0H651.8ZM670.7,1688.9H681.5V1703.7H670.7ZM670.7,1748.3H681.5V1761.8H670.7ZM562.2,1679.4H567.6V1702.4H562.2ZM785.4,1690.2H790.8V1703.7H785.4ZM785.4,1748.3H790.8V1761.8H785.4ZM893.4,1690.2H898.8V1703.7H893.4ZM893.4,1748.3H898.8V1761.8H893.4ZM1002.8,1690.2H1008.2V1703.7H1002.8ZM1002.8,1748.3H1008.2V1761.8H1002.8ZM562.2,1748.3H567.6V1761.8H562.2ZM670.7,1842.2H682.8V1856.3H670.7ZM785.4,1842.8H790.8V1856.3H785.4ZM893.4,1842.8H898.8V1856.3H893.4ZM1002.8,1842.8H1008.2V1856.3H1002.8ZM562.2,1842.8H567.6V1856.3H562.2ZM1080.0,1458.0H1108.8V1465.1H1080.0ZM1140.4,1444.0H1145.8V1458.0H1140.4ZM1248.4,1444.0H1253.8V1458.0H1248.4ZM1358.0,1444.0H1363.4V1458.0H1358.0ZM1465.2,1444.0H1470.6V1455.3H1465.2ZM1040.0,1458.0H1208.7V1462.4H1040.0ZM1222.2,1458.0H1373.4V1462.4H1222.2ZM1368.8,1460.2H1372.6V1474.2H1368.8ZM1368.8,1470.5H1382.9V1474.2H1368.8ZM1105.1,1461.6H1108.8V1566.0H1105.1ZM1084.5,1536.3H1107.5V1540.1H1084.5ZM1084.0,1538.2H1087.8V1562.0H1084.0ZM1064.3,1560.1H1087.2V1563.9H1064.3ZM1105.6,1560.1H1113.4V1563.9H1105.6ZM1162.8,1461.6H1166.6V1535.0H1162.8ZM1138.5,1476.1H1164.7V1481.5H1138.5ZM1137.5,1475.6H1141.2V1481.0H1137.5ZM1138.5,1498.0H1164.7V1501.8H1138.5ZM1137.5,1497.7H1141.2V1502.6H1137.5ZM1137.5,1520.7H1141.2V1543.1H1137.5ZM1138.5,1535.3H1202.0V1539.0H1138.5ZM1175.8,1537.7H1179.6V1563.3H1175.8ZM1131.8,1560.1H1179.0V1563.9H1131.8ZM1137.5,1556.6H1141.2V1562.0H1137.5ZM1199.6,1461.6H1202.8V1513.4H1199.6ZM1199.3,1535.0H1203.1V1589.0H1199.3ZM1227.4,1461.6H1232.2V1534.4H1227.4ZM1202.0,1554.2H1231.7V1557.9H1202.0ZM1227.9,1550.6H1231.7V1557.9H1227.9ZM1083.2,1584.4H1097.5V1588.2H1083.2ZM1105.3,1586.6H1247.9V1591.4H1105.3ZM1105.1,1583.6H1108.8V1589.0H1105.1ZM1243.3,1589.0H1248.7V1690.2H1243.3ZM1243.8,1687.5H1382.9V1691.3H1243.8ZM1293.5,1690.2H1298.4V1703.7H1293.5ZM1309.4,1501.5H1338.9V1509.1H1309.4ZM1309.2,1505.3H1316.2V1539.6H1309.2ZM1277.9,1534.2H1282.7V1564.7H1277.9ZM1263.5,1560.4H1282.2V1566.3H1263.5ZM1296.2,1568.2H1302.1V1605.7H1296.2ZM1296.5,1600.9H1325.6V1606.8H1296.5ZM1368.6,1501.2H1382.9V1508.0H1368.6ZM1368.6,1547.9H1382.9V1554.7H1368.6ZM1368.6,1600.3H1382.9V1607.1H1368.6ZM1368.6,1644.3H1382.9V1651.1H1368.6ZM1111.8,1628.1H1115.6V1641.1H1111.8ZM1069.2,1670.0H1072.9V1690.2H1069.2ZM1111.8,1670.8H1115.6V1690.2H1111.8ZM1154.7,1670.8H1158.5V1690.2H1154.7ZM1190.4,1686.2H1210.6V1690.0H1190.4ZM1077.0,1690.2H1082.7V1703.2H1077.0ZM1185.2,1690.2H1190.6V1703.2H1185.2ZM1077.0,1748.3H1082.7V1761.8H1077.0ZM1185.2,1748.3H1190.6V1761.8H1185.2ZM1293.2,1748.3H1298.6V1761.8H1293.2ZM1077.0,1842.8H1082.7V1856.3H1077.0ZM1185.2,1843.6H1190.6V1856.3H1185.2ZM1293.2,1843.6H1298.6V1856.3H1293.2ZM254.9,1445.4H261.1V1458.0H254.9ZM241.4,1452.9H261.1V1458.9H241.4ZM241.4,1527.4H254.9V1532.8H241.4ZM241.4,1569.3H254.9V1574.7H241.4ZM146.4,1453.2H159.9V1458.6H146.4ZM146.4,1528.2H159.9V1533.6H146.4ZM146.4,1569.3H159.9V1574.7H146.4ZM147.7,1677.5H160.7V1682.9H147.7ZM148.6,1751.0H161.5V1756.4H148.6ZM368.6,1445.4H374.5V1458.0H368.6ZM480.4,1445.9H492.0V1459.4H480.4ZM562.2,1459.4H567.6V1472.9H562.2ZM255.7,1507.5H261.7V1520.1H255.7ZM368.6,1507.5H374.0V1520.1H368.6ZM481.2,1507.5H486.6V1520.1H481.2ZM561.3,1507.5H566.7V1520.1H561.3ZM254.9,1583.6H261.1V1596.5H254.9ZM368.6,1583.6H374.0V1596.5H368.6ZM481.2,1583.6H486.6V1596.5H481.2ZM561.3,1583.6H566.7V1596.5H561.3ZM241.4,1678.1H261.1V1683.5H241.4ZM249.0,1680.8H254.9V1697.0H249.0ZM254.9,1679.4H261.1V1691.0H254.9ZM368.6,1679.4H374.0V1703.7H368.6ZM480.4,1679.4H485.8V1703.7H480.4ZM562.2,1679.4H567.6V1703.7H562.2ZM255.7,1748.3H261.7V1761.8H255.7ZM368.6,1748.3H374.0V1761.8H368.6ZM481.2,1748.3H486.6V1761.8H481.2ZM562.2,1748.3H567.6V1761.8H562.2ZM147.2,1843.6H152.6V1856.8H147.2ZM255.7,1843.6H261.1V1856.8H255.7ZM368.6,1842.8H374.0V1855.7H368.6ZM480.4,1842.8H485.8V1855.7H480.4ZM562.2,1842.8H567.6V1855.7H562.2ZM595.1,591.0H601.1V604.6H595.1ZM595.1,658.0H601.1V671.6H595.1ZM595.1,725.0H601.1V738.6H595.1ZM703.0,591.0H709.0V604.6H703.0ZM703.0,658.0H709.0V671.6H703.0ZM703.0,725.0H709.0V738.6H703.0ZM812.0,591.0H818.0V604.6H812.0ZM812.0,658.0H818.0V671.6H812.0ZM812.0,725.0H818.0V738.6H812.0ZM920.4,591.0H926.4V604.6H920.4ZM920.4,658.0H926.4V671.6H920.4ZM920.4,725.0H926.4V738.6H920.4ZM595.1,820.0H601.1V834.0H595.1ZM595.1,867.7H601.1V895.6H595.1ZM595.1,953.6H601.1V968.2H595.1ZM703.0,820.0H709.0V834.0H703.0ZM703.0,867.7H709.0V895.6H703.0ZM703.0,953.6H709.0V968.2H703.0ZM812.0,820.0H818.0V834.0H812.0ZM812.0,867.7H818.0V895.6H812.0ZM812.0,953.6H818.0V968.2H812.0ZM920.4,820.0H926.4V834.0H920.4ZM920.4,867.7H926.4V895.6H920.4ZM920.4,953.6H926.4V968.2H920.4ZM595.1,1059.4H601.1V1073.0H595.1ZM595.1,1122.3H601.1V1136.4H595.1ZM703.0,1059.4H709.0V1073.0H703.0ZM703.0,1122.3H709.0V1136.4H703.0ZM812.0,1059.4H818.0V1073.0H812.0ZM812.0,1122.3H818.0V1136.4H812.0ZM920.4,1059.4H926.4V1073.0H920.4ZM920.4,1122.3H926.4V1136.4H920.4ZM595.1,1218.0H601.1V1231.4H595.1ZM595.1,1280.3H601.1V1293.8H595.1ZM595.1,1350.5H601.1V1364.0H595.1ZM703.0,1218.0H709.0V1231.4H703.0ZM703.0,1280.3H709.0V1293.8H703.0ZM703.0,1350.5H709.0V1364.0H703.0ZM812.0,1218.0H818.0V1231.4H812.0ZM812.0,1280.3H818.0V1293.8H812.0ZM812.0,1350.5H818.0V1364.0H812.0ZM920.4,1218.0H926.4V1231.4H920.4ZM920.4,1280.3H926.4V1293.8H920.4ZM920.4,1350.5H926.4V1364.0H920.4ZM486.0,820.0H492.0V834.0H486.0ZM1026.2,591.0H1037.8V604.6H1026.2ZM1026.2,658.0H1037.8V671.6H1026.2ZM1026.2,725.0H1037.8V738.6H1026.2ZM1140.3,591.0H1145.9V604.6H1140.3ZM1140.3,658.0H1145.9V671.6H1140.3ZM1140.3,725.0H1145.9V738.6H1140.3ZM1248.5,591.0H1254.1V604.6H1248.5ZM1248.5,658.0H1254.1V671.6H1248.5ZM1248.5,725.0H1254.1V738.6H1248.5ZM1357.0,591.0H1362.6V604.6H1357.0ZM1357.0,658.0H1362.6V671.6H1357.0ZM1357.0,725.0H1362.6V738.6H1357.0ZM1026.2,820.0H1037.8V834.0H1026.2ZM1026.2,867.7H1037.8V895.6H1026.2ZM1026.2,953.6H1037.8V968.2H1026.2ZM1140.3,820.0H1145.9V834.0H1140.3ZM1140.3,867.7H1145.9V895.6H1140.3ZM1140.3,953.6H1145.9V968.2H1140.3ZM1248.5,820.0H1254.1V834.0H1248.5ZM1248.5,867.7H1254.1V895.6H1248.5ZM1248.5,953.6H1254.1V968.2H1248.5ZM1357.0,820.0H1362.6V834.0H1357.0ZM1357.0,867.7H1362.6V895.6H1357.0ZM1357.0,953.6H1362.6V968.2H1357.0ZM1026.2,1059.4H1037.8V1073.0H1026.2ZM1026.2,1122.3H1037.8V1136.4H1026.2ZM1140.3,1059.4H1145.9V1073.0H1140.3ZM1140.3,1122.3H1145.9V1136.4H1140.3ZM1248.5,1059.4H1254.1V1073.0H1248.5ZM1248.5,1122.3H1254.1V1136.4H1248.5ZM1357.0,1059.4H1362.6V1073.0H1357.0ZM1357.0,1122.3H1362.6V1136.4H1357.0ZM1026.2,1218.0H1037.8V1231.4H1026.2ZM1026.2,1280.3H1037.8V1293.8H1026.2ZM1026.2,1350.5H1037.8V1364.0H1026.2ZM1140.3,1218.0H1145.9V1231.4H1140.3ZM1140.3,1280.3H1145.9V1293.8H1140.3ZM1140.3,1350.5H1145.9V1364.0H1140.3ZM1248.5,1218.0H1254.1V1231.4H1248.5ZM1248.5,1280.3H1254.1V1293.8H1248.5ZM1248.5,1350.5H1254.1V1364.0H1248.5ZM1357.0,1218.0H1362.6V1231.4H1357.0ZM1357.0,1280.3H1362.6V1293.8H1357.0ZM1357.0,1350.5H1362.6V1364.0H1357.0ZM1465.4,591.0H1477.0V604.6H1465.4ZM1465.4,658.0H1477.0V671.6H1465.4ZM1465.4,725.0H1477.0V738.6H1465.4ZM1465.4,1059.4H1471.1V1073.0H1465.4ZM1465.4,1122.3H1471.1V1136.4H1465.4ZM1465.4,1218.0H1471.1V1231.4H1465.4ZM1465.4,1280.3H1471.1V1293.8H1465.4ZM1465.4,1350.5H1471.1V1364.0H1465.4ZM1465.0,820.3H1476.8V833.8H1465.0ZM1465.0,869.3H1476.8V883.5H1465.0ZM1465.0,883.5H1470.7V896.6H1465.0ZM1465.0,953.3H1470.7V966.5H1465.0ZM1579.5,591.0H1585.1V604.6H1579.5ZM1579.5,658.0H1585.1V671.6H1579.5ZM1688.2,591.0H1693.8V604.6H1688.2ZM1688.2,658.0H1693.8V671.6H1688.2ZM1763.2,591.0H1768.8V604.6H1763.2ZM1763.2,658.0H1768.8V671.6H1763.2ZM1838.3,591.0H1843.9V604.6H1838.3ZM1838.3,658.0H1843.9V671.6H1838.3ZM1546.6,725.0H1552.2V738.6H1546.6Z" fill="#27323b"/>
<path d="M486.0,657.7H491.4V671.2H486.0ZM486.0,725.2H491.4V738.7H486.0ZM1026.4,495.4H1037.7V509.7H1026.4Z" fill="#000"/>
<rect x="382.8" y="357.7" width="30.5" height="14.8" fill="#fdc900" stroke="#5e5a3a" stroke-width=".8"/>
<use href="#lift" x="398.0" y="365.1"/>
<rect x="384.4" y="385.5" width="17.3" height="28.9" fill="#fdc900" stroke="#5e5a3a" stroke-width=".8"/>
<use href="#lift" x="393.0" y="400.0"/>
<rect x="387.5" y="658.5" width="12.7" height="26.2" fill="#fdc900" stroke="#5e5a3a" stroke-width=".8"/>
<use href="#lift" x="393.8" y="671.6"/>
<rect x="415.8" y="669.9" width="26.2" height="14.8" fill="#fdc900" stroke="#5e5a3a" stroke-width=".8"/>
<use href="#lift" x="428.9" y="677.3"/>
<rect x="388.6" y="933.6" width="13.0" height="26.5" fill="#fdc900" stroke="#5e5a3a" stroke-width=".8"/>
<use href="#lift" x="395.0" y="946.9"/>
<rect x="413.7" y="933.6" width="28.3" height="16.2" fill="#fdc900" stroke="#5e5a3a" stroke-width=".8"/>
<use href="#lift" x="427.8" y="941.7"/>
<rect x="704.3" y="231.4" width="13.0" height="26.5" fill="#fdc900" stroke="#5e5a3a" stroke-width=".8"/>
<use href="#lift" x="710.8" y="244.6"/>
<rect x="693.0" y="269.4" width="26.5" height="12.7" fill="#fdc900" stroke="#5e5a3a" stroke-width=".8"/>
<use href="#lift" x="706.2" y="275.8"/>
<rect x="1053.9" y="232.7" width="13.5" height="23.8" fill="#fdc900" stroke="#5e5a3a" stroke-width=".8"/>
<use href="#lift" x="1060.7" y="244.6"/>
<rect x="1052.6" y="269.4" width="24.8" height="14.8" fill="#fdc900" stroke="#5e5a3a" stroke-width=".8"/>
<use href="#lift" x="1065.0" y="276.9"/>
<rect x="1636.6" y="888.1" width="12.7" height="26.0" fill="#fdc900" stroke="#5e5a3a" stroke-width=".8"/>
<use href="#lift" x="1643.0" y="901.1"/>
<rect x="1593.4" y="897.4" width="29.2" height="15.4" fill="#fdc900" stroke="#5e5a3a" stroke-width=".8"/>
<use href="#lift" x="1608.0" y="905.1"/>
<rect x="1595.5" y="1250.4" width="28.7" height="15.1" fill="#fdc900" stroke="#5e5a3a" stroke-width=".8"/>
<use href="#lift" x="1609.8" y="1258.0"/>
<rect x="1636.6" y="1247.7" width="12.7" height="27.1" fill="#fdc900" stroke="#5e5a3a" stroke-width=".8"/>
<use href="#lift" x="1643.0" y="1261.3"/>
<rect x="1144.4" y="1503.8" width="14.8" height="28.1" fill="#fdc900" stroke="#5e5a3a" stroke-width=".8"/>
<use href="#lift" x="1151.9" y="1517.9"/>
<rect x="1144.4" y="1543.0" width="27.0" height="13.2" fill="#fdc900" stroke="#5e5a3a" stroke-width=".8"/>
<use href="#lift" x="1157.9" y="1549.6"/>
<rect x="882.6" y="1503.4" width="13.0" height="25.6" fill="#fdc900" stroke="#5e5a3a" stroke-width=".8"/>
<use href="#lift" x="889.1" y="1516.2"/>
<rect x="871.3" y="1543.6" width="27.0" height="13.0" fill="#fdc900" stroke="#5e5a3a" stroke-width=".8"/>
<use href="#lift" x="884.8" y="1550.1"/>
<rect x="1144.5" y="1503.4" width="14.8" height="28.9" fill="#fdc900" stroke="#5e5a3a" stroke-width=".8"/>
<use href="#lift" x="1151.9" y="1517.8"/>
<rect x="1144.5" y="1543.6" width="27.0" height="13.0" fill="#fdc900" stroke="#5e5a3a" stroke-width=".8"/>
<use href="#lift" x="1158.0" y="1550.1"/>
<rect x="667.6" y="205.2" width="29.2" height="32.4" fill="#fdfdfd" stroke="#4c5258" stroke-width=".8"/><path d="M667.6,208.8H696.8M667.6,212.4H696.8M667.6,216.0H696.8M667.6,219.6H696.8M667.6,223.2H696.8M667.6,226.8H696.8M667.6,230.4H696.8M667.6,234.0H696.8" stroke="#3a4046" stroke-width="1.25"/><path d="M673.7,205.2V237.6M690.6,205.2V237.6" stroke="#8a8f94" stroke-width=".8"/><rect x="679.7" y="204.0" width="5" height="35.2" fill="#fdfdfd" stroke="#858a90" stroke-width="1.3"/>
<rect x="433.9" y="632.1" width="33.7" height="29.7" fill="#fdfdfd" stroke="#4c5258" stroke-width=".8"/><path d="M437.7,632.1V661.8M441.4,632.1V661.8M445.2,632.1V661.8M448.9,632.1V661.8M452.7,632.1V661.8M456.4,632.1V661.8M460.2,632.1V661.8M463.9,632.1V661.8" stroke="#3a4046" stroke-width="1.25"/><path d="M433.9,638.3H467.7M433.9,655.5H467.7" stroke="#8a8f94" stroke-width=".8"/><rect x="432.7" y="644.4" width="36.5" height="5" fill="#fdfdfd" stroke="#858a90" stroke-width="1.3"/>
<rect x="437.4" y="958.7" width="28.9" height="25.6" fill="#fdfdfd" stroke="#4c5258" stroke-width=".8"/><path d="M440.6,958.7V984.4M443.8,958.7V984.4M447.1,958.7V984.4M450.3,958.7V984.4M453.5,958.7V984.4M456.7,958.7V984.4M459.9,958.7V984.4M463.1,958.7V984.4" stroke="#3a4046" stroke-width="1.25"/><path d="M437.4,964.1H466.3M437.4,979.0H466.3" stroke="#8a8f94" stroke-width=".8"/><rect x="436.2" y="969.1" width="31.7" height="5" fill="#fdfdfd" stroke="#858a90" stroke-width="1.3"/>
<rect x="1077.7" y="205.2" width="28.3" height="32.4" fill="#fdfdfd" stroke="#4c5258" stroke-width=".8"/><path d="M1077.7,208.8H1106.0M1077.7,212.4H1106.0M1077.7,216.0H1106.0M1077.7,219.6H1106.0M1077.7,223.2H1106.0M1077.7,226.8H1106.0M1077.7,230.4H1106.0M1077.7,234.0H1106.0" stroke="#3a4046" stroke-width="1.25"/><path d="M1083.6,205.2V237.6M1100.1,205.2V237.6" stroke="#8a8f94" stroke-width=".8"/><rect x="1089.4" y="204.0" width="5" height="35.2" fill="#fdfdfd" stroke="#858a90" stroke-width="1.3"/>
<rect x="1569.0" y="860.2" width="31.8" height="28.7" fill="#fdfdfd" stroke="#4c5258" stroke-width=".8"/><path d="M1572.5,860.2V888.9M1576.1,860.2V888.9M1579.6,860.2V888.9M1583.1,860.2V888.9M1586.7,860.2V888.9M1590.2,860.2V888.9M1593.7,860.2V888.9M1597.3,860.2V888.9" stroke="#3a4046" stroke-width="1.25"/><path d="M1569.0,866.2H1600.8M1569.0,882.9H1600.8" stroke="#8a8f94" stroke-width=".8"/><rect x="1567.8" y="872.0" width="34.6" height="5" fill="#fdfdfd" stroke="#858a90" stroke-width="1.3"/>
<path d="M1718.9,1145.9H1738.2M1758.0,1145.9H1777.3M1718.9,1150.8H1738.2M1758.0,1150.8H1777.3M1718.9,1155.8H1738.2M1758.0,1155.8H1777.3M1718.9,1160.7H1738.2M1758.0,1160.7H1777.3M1718.9,1165.6H1738.2M1758.0,1165.6H1777.3M1718.9,1170.5H1738.2M1758.0,1170.5H1777.3M1718.9,1175.4H1738.2M1758.0,1175.4H1777.3M1739.9,1176.9V1196.5M1744.0,1176.9V1196.5M1748.1,1176.9V1196.5M1752.2,1176.9V1196.5M1756.2,1176.9V1196.5" stroke="#3c3c3c" stroke-width=".8" fill="none"/>
<rect x="1738.2" y="1145.2" width="19.8" height="31.6" fill="#e8e8e8" stroke="#888" stroke-width=".7"/>
<path d="M1739.3,1126.2H1756.8L1745.2,1145.2M1742.2,1126.2V1145.2M1745.2,1126.2V1145.2" stroke="#444" stroke-width=".7" fill="none"/>
<rect x="1569.0" y="1273.5" width="32.4" height="27.9" fill="#fdfdfd" stroke="#4c5258" stroke-width=".8"/><path d="M1572.6,1273.5V1301.3M1576.2,1273.5V1301.3M1579.8,1273.5V1301.3M1583.4,1273.5V1301.3M1587.0,1273.5V1301.3M1590.6,1273.5V1301.3M1594.2,1273.5V1301.3M1597.8,1273.5V1301.3" stroke="#3a4046" stroke-width="1.25"/><path d="M1569.0,1279.3H1601.4M1569.0,1295.5H1601.4" stroke="#8a8f94" stroke-width=".8"/><rect x="1567.8" y="1284.9" width="35.2" height="5" fill="#fdfdfd" stroke="#858a90" stroke-width="1.3"/>
<rect x="1169.5" y="1475.5" width="28.1" height="31.6" fill="#fdfdfd" stroke="#4c5258" stroke-width=".8"/><path d="M1169.5,1479.0H1197.6M1169.5,1482.5H1197.6M1169.5,1486.0H1197.6M1169.5,1489.5H1197.6M1169.5,1493.0H1197.6M1169.5,1496.5H1197.6M1169.5,1500.0H1197.6M1169.5,1503.6H1197.6" stroke="#3a4046" stroke-width="1.25"/><path d="M1175.4,1475.5V1507.1M1191.7,1475.5V1507.1" stroke="#8a8f94" stroke-width=".8"/><rect x="1181.1" y="1474.3" width="5" height="34.4" fill="#fdfdfd" stroke="#858a90" stroke-width="1.3"/>
<rect x="845.6" y="1476.9" width="28.1" height="31.6" fill="#fdfdfd" stroke="#4c5258" stroke-width=".8"/><path d="M845.6,1480.5H873.7M845.6,1484.0H873.7M845.6,1487.5H873.7M845.6,1491.0H873.7M845.6,1494.5H873.7M845.6,1498.0H873.7M845.6,1501.5H873.7M845.6,1505.0H873.7" stroke="#3a4046" stroke-width="1.25"/><path d="M851.5,1476.9V1508.5M867.8,1476.9V1508.5" stroke="#8a8f94" stroke-width=".8"/><rect x="857.2" y="1475.7" width="5" height="34.4" fill="#fdfdfd" stroke="#858a90" stroke-width="1.3"/>
<rect x="1169.6" y="1476.4" width="27.8" height="31.0" fill="#fdfdfd" stroke="#4c5258" stroke-width=".8"/><path d="M1169.6,1479.9H1197.4M1169.6,1483.3H1197.4M1169.6,1486.8H1197.4M1169.6,1490.2H1197.4M1169.6,1493.7H1197.4M1169.6,1497.1H1197.4M1169.6,1500.6H1197.4M1169.6,1504.0H1197.4" stroke="#3a4046" stroke-width="1.25"/><path d="M1175.4,1476.4V1507.5M1191.6,1476.4V1507.5" stroke="#8a8f94" stroke-width=".8"/><rect x="1181.0" y="1475.2" width="5" height="33.8" fill="#fdfdfd" stroke="#858a90" stroke-width="1.3"/>
<use href="#c" transform="translate(724.0,473.0) rotate(180)"/>
<use href="#c" transform="translate(759.9,473.0) rotate(180)"/>
<use href="#c" transform="translate(795.6,473.0) rotate(180)"/>
<use href="#c" transform="translate(833.1,473.0) rotate(180)"/>
<use href="#c" transform="translate(867.6,473.0) rotate(180)"/>
<use href="#c" transform="translate(903.5,473.0) rotate(180)"/>
<use href="#c" transform="translate(940.0,473.0) rotate(180)"/>
<use href="#c" transform="translate(975.6,473.0) rotate(180)"/>
<use href="#c" transform="translate(1052.6,473.8) rotate(180)"/>
<use href="#c" transform="translate(1088.6,473.8) rotate(180)"/>
<use href="#c" transform="translate(1124.7,473.8) rotate(180)"/>
<use href="#c" transform="translate(1160.8,473.8) rotate(180)"/>
<use href="#c" transform="translate(1196.8,473.8) rotate(180)"/>
<use href="#c" transform="translate(1232.8,473.8) rotate(180)"/>
<use href="#c" transform="translate(1268.9,473.8) rotate(180)"/>
<use href="#c" transform="translate(1304.9,473.8) rotate(180)"/>
<use href="#c" transform="translate(1341.0,473.8) rotate(180)"/>
<use href="#c" transform="translate(1377.0,473.8) rotate(180)"/>
<use href="#c" transform="translate(1413.1,473.8) rotate(180)"/>
<use href="#c" transform="translate(1449.1,473.8) rotate(180)"/>
<use href="#c" transform="translate(1492.4,473.8) rotate(180)"/>
<use href="#c" transform="translate(1528.4,473.8) rotate(180)"/>
<use href="#c" transform="translate(1564.2,473.8) rotate(180)"/>
<use href="#c" transform="translate(1600.8,473.8) rotate(180)"/>
<use href="#c" transform="translate(1637.2,473.8) rotate(180)"/>
<use href="#c" transform="translate(1673.0,473.8) rotate(180)"/>
<use href="#c" transform="translate(1709.6,473.8) rotate(180)"/>
<use href="#c" transform="translate(1746.7,473.8) rotate(180)"/>
<use href="#c" transform="translate(1785.2,473.8) rotate(180)"/>
<use href="#c" transform="translate(1822.4,473.8) rotate(180)"/>
<use href="#c" transform="translate(1860.0,473.8) rotate(180)"/>
<use href="#c" x="1268.9" y="398.0"/>
<use href="#c" x="1304.9" y="398.0"/>
<use href="#c" x="1341.0" y="398.0"/>
<use href="#c" x="1377.0" y="398.0"/>
<use href="#c" x="1413.1" y="398.0"/>
<use href="#c" x="1449.1" y="398.0"/>
<use href="#c" x="1492.4" y="398.0"/>
<use href="#c" x="1528.4" y="398.0"/>
<use href="#c" x="1564.2" y="398.0"/>
<use href="#c" x="1600.8" y="398.0"/>
<use href="#c" x="1637.2" y="398.0"/>
<use href="#c" x="1673.0" y="398.0"/>
<use href="#c" x="1709.6" y="398.0"/>
<use href="#c" x="1746.7" y="398.0"/>
<use href="#c" x="1785.2" y="398.0"/>
<use href="#c" x="507.5" y="627.9"/>
<use href="#c" x="543.5" y="627.9"/>
<use href="#c" x="579.5" y="627.9"/>
<use href="#c" x="615.5" y="627.9"/>
<use href="#c" x="651.5" y="627.9"/>
<use href="#c" x="687.5" y="627.9"/>
<use href="#c" x="723.5" y="627.9"/>
<use href="#c" x="759.5" y="627.9"/>
<use href="#c" x="795.5" y="627.9"/>
<use href="#c" x="831.5" y="627.9"/>
<use href="#c" x="867.5" y="627.9"/>
<use href="#c" x="903.5" y="627.9"/>
<use href="#c" transform="translate(507.5,704.2) rotate(180)"/>
<use href="#c" transform="translate(543.5,704.2) rotate(180)"/>
<use href="#c" transform="translate(579.5,704.2) rotate(180)"/>
<use href="#c" transform="translate(615.5,704.2) rotate(180)"/>
<use href="#c" transform="translate(651.5,704.2) rotate(180)"/>
<use href="#c" transform="translate(687.5,704.2) rotate(180)"/>
<use href="#c" transform="translate(723.5,704.2) rotate(180)"/>
<use href="#c" transform="translate(759.5,704.2) rotate(180)"/>
<use href="#c" transform="translate(795.5,704.2) rotate(180)"/>
<use href="#c" transform="translate(831.5,704.2) rotate(180)"/>
<use href="#c" transform="translate(867.5,704.2) rotate(180)"/>
<use href="#c" transform="translate(903.5,704.2) rotate(180)"/>
<use href="#c" x="1052.6" y="627.1"/>
<use href="#c" x="1088.6" y="627.1"/>
<use href="#c" x="1124.7" y="627.1"/>
<use href="#c" x="1160.8" y="627.1"/>
<use href="#c" x="1196.8" y="627.1"/>
<use href="#c" x="1232.8" y="627.1"/>
<use href="#c" x="1268.9" y="627.1"/>
<use href="#c" x="1304.9" y="627.1"/>
<use href="#c" x="1341.0" y="627.1"/>
<use href="#c" x="1377.0" y="627.1"/>
<use href="#c" x="1413.1" y="627.1"/>
<use href="#c" x="1449.1" y="627.1"/>
<use href="#c" x="1492.4" y="627.1"/>
<use href="#c" x="1528.4" y="627.1"/>
<use href="#c" x="1564.2" y="627.1"/>
<use href="#c" x="1600.8" y="627.1"/>
<use href="#c" x="1637.2" y="627.1"/>
<use href="#c" x="1673.0" y="627.1"/>
<use href="#c" x="1709.6" y="627.1"/>
<use href="#c" x="1746.7" y="627.1"/>
<use href="#c" x="1785.2" y="627.1"/>
<use href="#c" x="1822.4" y="627.1"/>
<use href="#c" x="1860.0" y="627.1"/>
<use href="#c" x="1894.8" y="627.1"/>
<use href="#c" transform="translate(1052.6,703.4) rotate(180)"/>
<use href="#c" transform="translate(1088.6,703.4) rotate(180)"/>
<use href="#c" transform="translate(1124.7,703.4) rotate(180)"/>
<use href="#c" transform="translate(1160.8,703.4) rotate(180)"/>
<use href="#c" transform="translate(1196.8,703.4) rotate(180)"/>
<use href="#c" transform="translate(1232.8,703.4) rotate(180)"/>
<use href="#c" transform="translate(1268.9,703.4) rotate(180)"/>
<use href="#c" transform="translate(1304.9,703.4) rotate(180)"/>
<use href="#c" transform="translate(1341.0,703.4) rotate(180)"/>
<use href="#c" transform="translate(1377.0,703.4) rotate(180)"/>
<use href="#c" transform="translate(1413.1,703.4) rotate(180)"/>
<use href="#c" transform="translate(1449.1,703.4) rotate(180)"/>
<use href="#c" transform="translate(1492.4,703.4) rotate(180)"/>
<use href="#c" transform="translate(1528.4,703.4) rotate(180)"/>
<use href="#c" x="507.5" y="856.3"/>
<use href="#c" x="543.5" y="856.3"/>
<use href="#c" x="579.5" y="856.3"/>
<use href="#c" x="615.5" y="856.3"/>
<use href="#c" x="651.5" y="856.3"/>
<use href="#c" x="687.5" y="856.3"/>
<use href="#c" x="723.5" y="856.3"/>
<use href="#c" x="759.5" y="856.3"/>
<use href="#c" x="795.5" y="856.3"/>
<use href="#c" x="831.5" y="856.3"/>
<use href="#c" x="867.5" y="856.3"/>
<use href="#c" x="903.5" y="856.3"/>
<use href="#c" transform="translate(507.5,934.0) rotate(180)"/>
<use href="#c" transform="translate(543.5,934.0) rotate(180)"/>
<use href="#c" transform="translate(579.5,934.0) rotate(180)"/>
<use href="#c" transform="translate(615.5,934.0) rotate(180)"/>
<use href="#c" transform="translate(651.5,934.0) rotate(180)"/>
<use href="#c" transform="translate(687.5,934.0) rotate(180)"/>
<use href="#c" transform="translate(723.5,934.0) rotate(180)"/>
<use href="#c" transform="translate(759.5,934.0) rotate(180)"/>
<use href="#c" transform="translate(795.5,934.0) rotate(180)"/>
<use href="#c" transform="translate(831.5,934.0) rotate(180)"/>
<use href="#c" transform="translate(867.5,934.0) rotate(180)"/>
<use href="#c" transform="translate(903.5,934.0) rotate(180)"/>
<use href="#c" x="1052.9" y="856.3"/>
<use href="#c" x="1089.0" y="856.3"/>
<use href="#c" x="1125.1" y="856.3"/>
<use href="#c" x="1161.2" y="856.3"/>
<use href="#c" x="1197.3" y="856.3"/>
<use href="#c" x="1233.4" y="856.3"/>
<use href="#c" x="1269.5" y="856.3"/>
<use href="#c" x="1305.6" y="856.3"/>
<use href="#c" x="1341.7" y="856.3"/>
<use href="#c" x="1377.8" y="856.3"/>
<use href="#c" x="1413.9" y="856.3"/>
<use href="#c" x="1450.0" y="856.3"/>
<use href="#c" x="1491.4" y="856.3"/>
<use href="#c" transform="translate(1052.9,934.0) rotate(180)"/>
<use href="#c" transform="translate(1089.0,934.0) rotate(180)"/>
<use href="#c" transform="translate(1125.1,934.0) rotate(180)"/>
<use href="#c" transform="translate(1161.2,934.0) rotate(180)"/>
<use href="#c" transform="translate(1197.3,934.0) rotate(180)"/>
<use href="#c" transform="translate(1233.4,934.0) rotate(180)"/>
<use href="#c" transform="translate(1269.5,934.0) rotate(180)"/>
<use href="#c" transform="translate(1305.6,934.0) rotate(180)"/>
<use href="#c" transform="translate(1341.7,934.0) rotate(180)"/>
<use href="#c" transform="translate(1377.8,934.0) rotate(180)"/>
<use href="#c" transform="translate(1413.9,934.0) rotate(180)"/>
<use href="#c" transform="translate(1450.0,934.0) rotate(180)"/>
<use href="#c" transform="translate(1491.4,934.0) rotate(180)"/>
<use href="#c" transform="translate(507.5,1100.0) rotate(180)"/>
<use href="#c" transform="translate(543.5,1100.0) rotate(180)"/>
<use href="#c" transform="translate(579.5,1100.0) rotate(180)"/>
<use href="#c" transform="translate(615.5,1100.0) rotate(180)"/>
<use href="#c" transform="translate(651.5,1100.0) rotate(180)"/>
<use href="#c" transform="translate(687.5,1100.0) rotate(180)"/>
<use href="#c" transform="translate(723.5,1100.0) rotate(180)"/>
<use href="#c" transform="translate(759.5,1100.0) rotate(180)"/>
<use href="#c" transform="translate(795.5,1100.0) rotate(180)"/>
<use href="#c" transform="translate(831.5,1100.0) rotate(180)"/>
<use href="#c" transform="translate(867.5,1100.0) rotate(180)"/>
<use href="#c" transform="translate(903.5,1100.0) rotate(180)"/>
<use href="#c" transform="translate(1052.6,1098.7) rotate(180)"/>
<use href="#c" transform="translate(1088.6,1098.7) rotate(180)"/>
<use href="#c" transform="translate(1124.7,1098.7) rotate(180)"/>
<use href="#c" transform="translate(1160.8,1098.7) rotate(180)"/>
<use href="#c" transform="translate(1196.8,1098.7) rotate(180)"/>
<use href="#c" transform="translate(1232.8,1098.7) rotate(180)"/>
<use href="#c" transform="translate(1268.9,1098.7) rotate(180)"/>
<use href="#c" transform="translate(1304.9,1098.7) rotate(180)"/>
<use href="#c" transform="translate(1341.0,1098.7) rotate(180)"/>
<use href="#c" transform="translate(1377.0,1098.7) rotate(180)"/>
<use href="#c" transform="translate(1413.1,1098.7) rotate(180)"/>
<use href="#c" transform="translate(1449.1,1098.7) rotate(180)"/>
<use href="#c" transform="translate(1488.7,1098.7) rotate(180)"/>
<use href="#c" transform="translate(1528.4,1098.7) rotate(180)"/>
<use href="#c" x="276.8" y="1253.1"/>
<use href="#c" x="314.3" y="1253.1"/>
<use href="#c" x="351.0" y="1253.1"/>
<use href="#c" x="389.4" y="1253.1"/>
<use href="#c" x="426.4" y="1253.1"/>
<use href="#c" x="462.3" y="1253.1"/>
<use href="#c" x="507.5" y="1253.1"/>
<use href="#c" x="543.5" y="1253.1"/>
<use href="#c" x="579.5" y="1253.1"/>
<use href="#c" x="615.5" y="1253.1"/>
<use href="#c" x="651.5" y="1253.1"/>
<use href="#c" x="687.5" y="1253.1"/>
<use href="#c" x="723.5" y="1253.1"/>
<use href="#c" x="759.5" y="1253.1"/>
<use href="#c" x="795.5" y="1253.1"/>
<use href="#c" x="831.5" y="1253.1"/>
<use href="#c" x="867.5" y="1253.1"/>
<use href="#c" x="903.5" y="1253.1"/>
<use href="#c" transform="translate(276.8,1329.4) rotate(180)"/>
<use href="#c" transform="translate(314.3,1329.4) rotate(180)"/>
<use href="#c" transform="translate(351.0,1329.4) rotate(180)"/>
<use href="#c" transform="translate(389.4,1329.4) rotate(180)"/>
<use href="#c" transform="translate(426.4,1329.4) rotate(180)"/>
<use href="#c" transform="translate(462.3,1329.4) rotate(180)"/>
<use href="#c" transform="translate(507.5,1329.4) rotate(180)"/>
<use href="#c" transform="translate(543.5,1329.4) rotate(180)"/>
<use href="#c" transform="translate(579.5,1329.4) rotate(180)"/>
<use href="#c" transform="translate(615.5,1329.4) rotate(180)"/>
<use href="#c" transform="translate(651.5,1329.4) rotate(180)"/>
<use href="#c" transform="translate(687.5,1329.4) rotate(180)"/>
<use href="#c" transform="translate(723.5,1329.4) rotate(180)"/>
<use href="#c" transform="translate(759.5,1329.4) rotate(180)"/>
<use href="#c" transform="translate(795.5,1329.4) rotate(180)"/>
<use href="#c" transform="translate(831.5,1329.4) rotate(180)"/>
<use href="#c" transform="translate(867.5,1329.4) rotate(180)"/>
<use href="#c" transform="translate(903.5,1329.4) rotate(180)"/>
<use href="#c" x="1052.6" y="1253.1"/>
<use href="#c" x="1088.6" y="1253.1"/>
<use href="#c" x="1124.7" y="1253.1"/>
<use href="#c" x="1160.8" y="1253.1"/>
<use href="#c" x="1196.8" y="1253.1"/>
<use href="#c" x="1232.8" y="1253.1"/>
<use href="#c" x="1268.9" y="1253.1"/>
<use href="#c" x="1304.9" y="1253.1"/>
<use href="#c" x="1341.0" y="1253.1"/>
<use href="#c" x="1377.0" y="1253.1"/>
<use href="#c" x="1413.1" y="1253.1"/>
<use href="#c" x="1449.1" y="1253.1"/>
<use href="#c" x="1488.7" y="1253.1"/>
<use href="#c" x="1528.4" y="1253.1"/>
<use href="#c" transform="translate(1052.6,1329.4) rotate(180)"/>
<use href="#c" transform="translate(1088.6,1329.4) rotate(180)"/>
<use href="#c" transform="translate(1124.7,1329.4) rotate(180)"/>
<use href="#c" transform="translate(1160.8,1329.4) rotate(180)"/>
<use href="#c" transform="translate(1196.8,1329.4) rotate(180)"/>
<use href="#c" transform="translate(1232.8,1329.4) rotate(180)"/>
<use href="#c" transform="translate(1268.9,1329.4) rotate(180)"/>
<use href="#c" transform="translate(1304.9,1329.4) rotate(180)"/>
<use href="#c" transform="translate(1341.0,1329.4) rotate(180)"/>
<use href="#c" transform="translate(1377.0,1329.4) rotate(180)"/>
<use href="#c" transform="translate(1413.1,1329.4) rotate(180)"/>
<use href="#c" transform="translate(1449.1,1329.4) rotate(180)"/>
<use href="#c" transform="translate(1488.7,1329.4) rotate(180)"/>
<use href="#c" transform="translate(1528.4,1329.4) rotate(180)"/>
<use href="#c" x="276.8" y="1479.0"/>
<use href="#c" x="314.3" y="1479.0"/>
<use href="#c" x="351.6" y="1479.0"/>
<use href="#c" x="389.9" y="1479.0"/>
<use href="#c" x="426.4" y="1479.0"/>
<use href="#c" x="463.1" y="1479.0"/>
<use href="#c" x="503.6" y="1479.0"/>
<use href="#c" x="543.3" y="1479.0"/>
<use href="#c" x="585.1" y="1479.0"/>
<use href="#c" x="628.3" y="1479.0"/>
<use href="#c" transform="translate(276.8,1559.0) rotate(180)"/>
<use href="#c" transform="translate(314.3,1559.0) rotate(180)"/>
<use href="#c" transform="translate(351.6,1559.0) rotate(180)"/>
<use href="#c" transform="translate(389.9,1559.0) rotate(180)"/>
<use href="#c" transform="translate(426.4,1559.0) rotate(180)"/>
<use href="#c" transform="translate(463.1,1559.0) rotate(180)"/>
<use href="#c" transform="translate(503.6,1559.0) rotate(180)"/>
<use href="#c" transform="translate(543.3,1559.0) rotate(180)"/>
<use href="#c" transform="translate(585.1,1559.0) rotate(180)"/>
<use href="#c" transform="translate(628.3,1559.0) rotate(180)"/>
<use href="#c" transform="translate(276.0,1725.8) rotate(180)"/>
<use href="#c" transform="translate(313.8,1725.8) rotate(180)"/>
<use href="#c" transform="translate(351.0,1725.8) rotate(180)"/>
<use href="#c" transform="translate(391.5,1725.8) rotate(180)"/>
<use href="#c" transform="translate(427.7,1725.8) rotate(180)"/>
<use href="#c" transform="translate(464.2,1725.8) rotate(180)"/>
<use href="#c" transform="translate(504.1,1725.8) rotate(180)"/>
<use href="#c" transform="translate(544.1,1725.8) rotate(180)"/>
<use href="#c" transform="translate(582.4,1725.8) rotate(180)"/>
<use href="#c" transform="translate(618.9,1725.8) rotate(180)"/>
<use href="#c" transform="translate(654.5,1725.8) rotate(180)"/>
<use href="#c" transform="translate(696.4,1725.8) rotate(180)"/>
<use href="#c" transform="translate(732.8,1725.8) rotate(180)"/>
<use href="#c" transform="translate(768.4,1725.8) rotate(180)"/>
<use href="#c" transform="translate(804.9,1725.8) rotate(180)"/>
<use href="#c" transform="translate(840.0,1725.8) rotate(180)"/>
<use href="#c" transform="translate(913.7,1725.8) rotate(180)"/>
<use href="#c" transform="translate(950.7,1725.8) rotate(180)"/>
<use href="#c" transform="translate(987.4,1725.8) rotate(180)"/>
<use href="#c" transform="translate(1022.2,1725.8) rotate(180)"/>
<use href="#c" transform="translate(1060.2,1725.8) rotate(180)"/>
<use href="#c" transform="translate(1099.4,1725.8) rotate(180)"/>
<use href="#c" transform="translate(1134.5,1725.8) rotate(180)"/>
<use href="#c" transform="translate(1170.1,1725.8) rotate(180)"/>
<use href="#c" transform="translate(1206.0,1725.8) rotate(180)"/>
<use href="#c" transform="translate(1242.0,1725.8) rotate(180)"/>
<use href="#c" transform="translate(1278.1,1725.8) rotate(180)"/>
<use href="#c" transform="translate(1317.3,1725.8) rotate(180)"/>
<use href="#c" transform="translate(1360.5,1725.8) rotate(180)"/>
<use href="#c" x="696.4" y="1658.9"/>
<use href="#c" x="950.7" y="1652.9"/>
<use href="#c" x="1133.1" y="1651.5"/>
<use href="#c" x="167.5" y="1880.9"/>
<use href="#c" x="203.6" y="1880.9"/>
<use href="#c" x="238.7" y="1880.9"/>
<use href="#c" x="277.3" y="1880.9"/>
<use href="#c" x="313.8" y="1880.9"/>
<use href="#c" x="350.8" y="1880.9"/>
<use href="#c" x="390.7" y="1880.9"/>
<use href="#c" x="427.2" y="1880.9"/>
<use href="#c" x="463.6" y="1880.9"/>
<use href="#c" x="502.8" y="1880.9"/>
<use href="#c" x="542.7" y="1880.9"/>
<use href="#c" x="581.6" y="1880.9"/>
<use href="#c" x="618.0" y="1880.9"/>
<use href="#c" x="654.0" y="1880.9"/>
<use href="#c" x="699.6" y="1880.9"/>
<use href="#c" x="736.0" y="1880.9"/>
<use href="#c" x="772.5" y="1880.9"/>
<use href="#c" x="808.4" y="1880.9"/>
<use href="#c" x="844.0" y="1880.9"/>
<use href="#c" x="879.4" y="1880.9"/>
<use href="#c" x="915.0" y="1880.9"/>
<use href="#c" x="952.0" y="1880.9"/>
<use href="#c" x="988.4" y="1880.9"/>
<use href="#c" x="1025.7" y="1880.9"/>
<use href="#c" x="1062.4" y="1880.9"/>
<use href="#c" x="1099.4" y="1880.9"/>
<use href="#c" x="1135.0" y="1880.9"/>
<use href="#c" x="1171.0" y="1880.9"/>
<use href="#c" x="1207.4" y="1880.9"/>
<use href="#c" x="1243.0" y="1880.9"/>
<use href="#c" x="1278.4" y="1880.9"/>
<use href="#c" x="1318.0" y="1880.9"/>
<use href="#c" x="1360.0" y="1880.9"/>
<use href="#c" x="181.5" y="393.6"/>
<use href="#c" x="222.0" y="393.6"/>
<use href="#c" transform="translate(180.5,465.7) rotate(180)"/>
<use href="#c" transform="translate(221.5,465.7) rotate(180)"/>
<use href="#c" x="137.5" y="542.1"/>
<use href="#c" transform="translate(136.6,625.8) rotate(180)"/>
<use href="#c" transform="translate(123.5,710.1) rotate(90)"/>
<use href="#c" transform="translate(123.5,745.8) rotate(90)"/>
<use href="#c" transform="translate(123.5,782.4) rotate(90)"/>
<use href="#c" transform="translate(123.5,819.4) rotate(90)"/>
<use href="#c" transform="translate(123.5,855.9) rotate(90)"/>
<use href="#c" transform="translate(123.5,891.8) rotate(90)"/>
<use href="#c" transform="translate(123.5,926.9) rotate(90)"/>
<use href="#c" transform="translate(123.5,963.3) rotate(90)"/>
<use href="#c" transform="translate(123.5,998.4) rotate(90)"/>
<use href="#c" transform="translate(123.5,1040.8) rotate(90)"/>
<use href="#c" transform="translate(123.5,1077.3) rotate(90)"/>
<use href="#c" transform="translate(123.5,1113.7) rotate(90)"/>
<use href="#c" transform="translate(123.5,1150.2) rotate(90)"/>
<use href="#c" transform="translate(123.5,1184.7) rotate(90)"/>
<use href="#c" transform="translate(123.5,1220.4) rotate(90)"/>
<use href="#c" transform="translate(123.5,1256.8) rotate(90)"/>
<use href="#c" transform="translate(123.5,1293.3) rotate(90)"/>
<use href="#c" transform="translate(123.5,1330.0) rotate(90)"/>
<use href="#c" transform="translate(123.5,1365.8) rotate(90)"/>
<use href="#c" transform="translate(123.5,1401.0) rotate(90)"/>
<use href="#c" transform="translate(123.5,1437.3) rotate(90)"/>
<use href="#c" transform="translate(123.5,1474.2) rotate(90)"/>
<use href="#c" transform="translate(123.5,1511.6) rotate(90)"/>
<use href="#c" transform="translate(123.5,1551.6) rotate(90)"/>
<use href="#c" transform="translate(123.5,1591.1) rotate(90)"/>
<use href="#c" transform="translate(123.5,1626.2) rotate(90)"/>
<use href="#c" transform="translate(123.5,1661.3) rotate(90)"/>
<use href="#c" transform="translate(123.5,1698.3) rotate(90)"/>
<use href="#c" transform="translate(123.5,1735.6) rotate(90)"/>
<use href="#c" transform="translate(123.5,1770.4) rotate(90)"/>
<use href="#c" transform="translate(123.5,1806.3) rotate(90)"/>
<use href="#c" transform="translate(276.0,738.6) rotate(270)"/>
<use href="#c" transform="translate(452.0,783.5) rotate(270)"/>
<use href="#c" transform="translate(276.8,833.8) rotate(270)"/>
<use href="#c" transform="translate(276.8,878.7) rotate(270)"/>
<use href="#c" transform="translate(276.8,1052.8) rotate(270)"/>
<path d="M709.0,510.3H739.0V524.6H709.0ZM744.9,510.3H774.9V524.6H744.9ZM780.6,510.3H810.6V524.6H780.6ZM818.1,510.3H848.1V524.6H818.1ZM852.6,510.3H882.6V524.6H852.6ZM888.5,510.3H918.5V524.6H888.5ZM925.0,510.3H955.0V524.6H925.0ZM960.6,510.3H990.6V524.6H960.6ZM1037.6,509.9H1067.6V524.2H1037.6ZM1073.6,509.9H1103.6V524.2H1073.6ZM1109.7,509.9H1139.7V524.2H1109.7ZM1145.8,509.9H1175.8V524.2H1145.8ZM1181.8,509.9H1211.8V524.2H1181.8ZM1217.8,509.9H1247.8V524.2H1217.8ZM1253.9,509.9H1283.9V524.2H1253.9ZM1289.9,509.9H1319.9V524.2H1289.9ZM1326.0,509.9H1356.0V524.2H1326.0ZM1362.0,509.9H1392.0V524.2H1362.0ZM1398.1,509.9H1428.1V524.2H1398.1ZM1434.1,509.9H1464.1V524.2H1434.1ZM1477.4,509.9H1507.4V524.2H1477.4ZM1513.4,509.9H1543.4V524.2H1513.4ZM1549.2,509.9H1579.2V524.2H1549.2ZM1585.8,509.9H1615.8V524.2H1585.8ZM1622.2,509.9H1652.2V524.2H1622.2ZM1658.0,509.9H1688.0V524.2H1658.0ZM1694.6,509.9H1724.6V524.2H1694.6ZM1731.7,509.9H1761.7V524.2H1731.7ZM1770.2,509.9H1800.2V524.2H1770.2ZM1807.4,509.9H1837.4V524.2H1807.4ZM1845.0,509.9H1875.0V524.2H1845.0ZM1253.9,348.3H1283.9V362.6H1253.9ZM1289.9,348.3H1319.9V362.6H1289.9ZM1326.0,348.3H1356.0V362.6H1326.0ZM1362.0,348.3H1392.0V362.6H1362.0ZM1398.1,348.3H1428.1V362.6H1398.1ZM1434.1,348.3H1464.1V362.6H1434.1ZM1477.4,348.3H1507.4V362.6H1477.4ZM1513.4,348.3H1543.4V362.6H1513.4ZM1549.2,348.3H1579.2V362.6H1549.2ZM1585.8,348.3H1615.8V362.6H1585.8ZM1622.2,348.3H1652.2V362.6H1622.2ZM1658.0,348.3H1688.0V362.6H1658.0ZM1694.6,348.3H1724.6V362.6H1694.6ZM1731.7,348.3H1761.7V362.6H1731.7ZM1770.2,348.3H1800.2V362.6H1770.2ZM492.5,577.2H522.5V591.5H492.5ZM528.5,577.2H558.5V591.5H528.5ZM564.5,577.2H594.5V591.5H564.5ZM600.5,577.2H630.5V591.5H600.5ZM636.5,577.2H666.5V591.5H636.5ZM672.5,577.2H702.5V591.5H672.5ZM708.5,577.2H738.5V591.5H708.5ZM744.5,577.2H774.5V591.5H744.5ZM780.5,577.2H810.5V591.5H780.5ZM816.5,577.2H846.5V591.5H816.5ZM852.5,577.2H882.5V591.5H852.5ZM888.5,577.2H918.5V591.5H888.5ZM492.5,739.4H522.5V753.7H492.5ZM528.5,739.4H558.5V753.7H528.5ZM564.5,739.4H594.5V753.7H564.5ZM600.5,739.4H630.5V753.7H600.5ZM636.5,739.4H666.5V753.7H636.5ZM672.5,739.4H702.5V753.7H672.5ZM708.5,739.4H738.5V753.7H708.5ZM744.5,739.4H774.5V753.7H744.5ZM780.5,739.4H810.5V753.7H780.5ZM816.5,739.4H846.5V753.7H816.5ZM852.5,739.4H882.5V753.7H852.5ZM888.5,739.4H918.5V753.7H888.5ZM1037.6,576.4H1067.6V590.7H1037.6ZM1073.6,576.4H1103.6V590.7H1073.6ZM1109.7,576.4H1139.7V590.7H1109.7ZM1145.8,576.4H1175.8V590.7H1145.8ZM1181.8,576.4H1211.8V590.7H1181.8ZM1217.8,576.4H1247.8V590.7H1217.8ZM1253.9,576.4H1283.9V590.7H1253.9ZM1289.9,576.4H1319.9V590.7H1289.9ZM1326.0,576.4H1356.0V590.7H1326.0ZM1362.0,576.4H1392.0V590.7H1362.0ZM1398.1,576.4H1428.1V590.7H1398.1ZM1434.1,576.4H1464.1V590.7H1434.1ZM1477.4,576.4H1507.4V590.7H1477.4ZM1513.4,576.4H1543.4V590.7H1513.4ZM1549.2,576.4H1579.2V590.7H1549.2ZM1585.8,576.4H1615.8V590.7H1585.8ZM1622.2,576.4H1652.2V590.7H1622.2ZM1658.0,576.4H1688.0V590.7H1658.0ZM1694.6,576.4H1724.6V590.7H1694.6ZM1731.7,576.4H1761.7V590.7H1731.7ZM1770.2,576.4H1800.2V590.7H1770.2ZM1807.4,576.4H1837.4V590.7H1807.4ZM1845.0,576.4H1875.0V590.7H1845.0ZM1879.8,576.4H1909.8V590.7H1879.8ZM1037.6,738.6H1067.6V752.9H1037.6ZM1073.6,738.6H1103.6V752.9H1073.6ZM1109.7,738.6H1139.7V752.9H1109.7ZM1145.8,738.6H1175.8V752.9H1145.8ZM1181.8,738.6H1211.8V752.9H1181.8ZM1217.8,738.6H1247.8V752.9H1217.8ZM1253.9,738.6H1283.9V752.9H1253.9ZM1289.9,738.6H1319.9V752.9H1289.9ZM1326.0,738.6H1356.0V752.9H1326.0ZM1362.0,738.6H1392.0V752.9H1362.0ZM1398.1,738.6H1428.1V752.9H1398.1ZM1434.1,738.6H1464.1V752.9H1434.1ZM1477.4,738.6H1507.4V752.9H1477.4ZM1513.4,738.6H1543.4V752.9H1513.4ZM492.5,806.5H522.5V820.8H492.5ZM528.5,806.5H558.5V820.8H528.5ZM564.5,806.5H594.5V820.8H564.5ZM600.5,806.5H630.5V820.8H600.5ZM636.5,806.5H666.5V820.8H636.5ZM672.5,806.5H702.5V820.8H672.5ZM708.5,806.5H738.5V820.8H708.5ZM744.5,806.5H774.5V820.8H744.5ZM780.5,806.5H810.5V820.8H780.5ZM816.5,806.5H846.5V820.8H816.5ZM852.5,806.5H882.5V820.8H852.5ZM888.5,806.5H918.5V820.8H888.5ZM492.5,968.2H522.5V982.5H492.5ZM528.5,968.2H558.5V982.5H528.5ZM564.5,968.2H594.5V982.5H564.5ZM600.5,968.2H630.5V982.5H600.5ZM636.5,968.2H666.5V982.5H636.5ZM672.5,968.2H702.5V982.5H672.5ZM708.5,968.2H738.5V982.5H708.5ZM744.5,968.2H774.5V982.5H744.5ZM780.5,968.2H810.5V982.5H780.5ZM816.5,968.2H846.5V982.5H816.5ZM852.5,968.2H882.5V982.5H852.5ZM888.5,968.2H918.5V982.5H888.5ZM1037.9,806.5H1067.9V820.8H1037.9ZM1074.0,806.5H1104.0V820.8H1074.0ZM1110.1,806.5H1140.1V820.8H1110.1ZM1146.2,806.5H1176.2V820.8H1146.2ZM1182.3,806.5H1212.3V820.8H1182.3ZM1218.4,806.5H1248.4V820.8H1218.4ZM1254.5,806.5H1284.5V820.8H1254.5ZM1290.6,806.5H1320.6V820.8H1290.6ZM1326.7,806.5H1356.7V820.8H1326.7ZM1362.8,806.5H1392.8V820.8H1362.8ZM1398.9,806.5H1428.9V820.8H1398.9ZM1435.0,806.5H1465.0V820.8H1435.0ZM1472.5,806.5H1507.6V820.8H1472.5ZM1037.9,968.2H1067.9V982.5H1037.9ZM1074.0,968.2H1104.0V982.5H1074.0ZM1110.1,968.2H1140.1V982.5H1110.1ZM1146.2,968.2H1176.2V982.5H1146.2ZM1182.3,968.2H1212.3V982.5H1182.3ZM1218.4,968.2H1248.4V982.5H1218.4ZM1254.5,968.2H1284.5V982.5H1254.5ZM1290.6,968.2H1320.6V982.5H1290.6ZM1326.7,968.2H1356.7V982.5H1326.7ZM1362.8,968.2H1392.8V982.5H1362.8ZM1398.9,968.2H1428.9V982.5H1398.9ZM1435.0,968.2H1465.0V982.5H1435.0ZM1472.5,968.2H1507.6V982.5H1472.5ZM492.5,1138.5H522.5V1152.8H492.5ZM528.5,1138.5H558.5V1152.8H528.5ZM564.5,1138.5H594.5V1152.8H564.5ZM600.5,1138.5H630.5V1152.8H600.5ZM636.5,1138.5H666.5V1152.8H636.5ZM672.5,1138.5H702.5V1152.8H672.5ZM708.5,1138.5H738.5V1152.8H708.5ZM744.5,1138.5H774.5V1152.8H744.5ZM780.5,1138.5H810.5V1152.8H780.5ZM816.5,1138.5H846.5V1152.8H816.5ZM852.5,1138.5H882.5V1152.8H852.5ZM888.5,1138.5H918.5V1152.8H888.5ZM1037.6,1137.2H1067.6V1151.5H1037.6ZM1073.6,1137.2H1103.6V1151.5H1073.6ZM1109.7,1137.2H1139.7V1151.5H1109.7ZM1145.8,1137.2H1175.8V1151.5H1145.8ZM1181.8,1137.2H1211.8V1151.5H1181.8ZM1217.8,1137.2H1247.8V1151.5H1217.8ZM1253.9,1137.2H1283.9V1151.5H1253.9ZM1289.9,1137.2H1319.9V1151.5H1289.9ZM1326.0,1137.2H1356.0V1151.5H1326.0ZM1362.0,1137.2H1392.0V1151.5H1362.0ZM1398.1,1137.2H1428.1V1151.5H1398.1ZM1434.1,1137.2H1464.1V1151.5H1434.1ZM1472.7,1137.2H1505.0V1151.5H1472.7ZM1511.3,1137.2H1544.1V1151.5H1511.3ZM261.8,1202.4H291.8V1216.7H261.8ZM299.3,1202.4H329.3V1216.7H299.3ZM336.0,1202.4H366.0V1216.7H336.0ZM374.4,1202.4H404.4V1216.7H374.4ZM411.4,1202.4H441.4V1216.7H411.4ZM447.3,1202.4H477.3V1216.7H447.3ZM492.5,1202.4H522.5V1216.7H492.5ZM528.5,1202.4H558.5V1216.7H528.5ZM564.5,1202.4H594.5V1216.7H564.5ZM600.5,1202.4H630.5V1216.7H600.5ZM636.5,1202.4H666.5V1216.7H636.5ZM672.5,1202.4H702.5V1216.7H672.5ZM708.5,1202.4H738.5V1216.7H708.5ZM744.5,1202.4H774.5V1216.7H744.5ZM780.5,1202.4H810.5V1216.7H780.5ZM816.5,1202.4H846.5V1216.7H816.5ZM852.5,1202.4H882.5V1216.7H852.5ZM888.5,1202.4H918.5V1216.7H888.5ZM261.8,1364.6H291.8V1378.9H261.8ZM299.3,1364.6H329.3V1378.9H299.3ZM336.0,1364.6H366.0V1378.9H336.0ZM374.4,1364.6H404.4V1378.9H374.4ZM411.4,1364.6H441.4V1378.9H411.4ZM447.3,1364.6H477.3V1378.9H447.3ZM492.5,1364.6H522.5V1378.9H492.5ZM528.5,1364.6H558.5V1378.9H528.5ZM564.5,1364.6H594.5V1378.9H564.5ZM600.5,1364.6H630.5V1378.9H600.5ZM636.5,1364.6H666.5V1378.9H636.5ZM672.5,1364.6H702.5V1378.9H672.5ZM708.5,1364.6H738.5V1378.9H708.5ZM744.5,1364.6H774.5V1378.9H744.5ZM780.5,1364.6H810.5V1378.9H780.5ZM816.5,1364.6H846.5V1378.9H816.5ZM852.5,1364.6H882.5V1378.9H852.5ZM888.5,1364.6H918.5V1378.9H888.5ZM1037.6,1202.4H1067.6V1216.7H1037.6ZM1073.6,1202.4H1103.6V1216.7H1073.6ZM1109.7,1202.4H1139.7V1216.7H1109.7ZM1145.8,1202.4H1175.8V1216.7H1145.8ZM1181.8,1202.4H1211.8V1216.7H1181.8ZM1217.8,1202.4H1247.8V1216.7H1217.8ZM1253.9,1202.4H1283.9V1216.7H1253.9ZM1289.9,1202.4H1319.9V1216.7H1289.9ZM1326.0,1202.4H1356.0V1216.7H1326.0ZM1362.0,1202.4H1392.0V1216.7H1362.0ZM1398.1,1202.4H1428.1V1216.7H1398.1ZM1434.1,1202.4H1464.1V1216.7H1434.1ZM1473.7,1202.4H1503.7V1216.7H1473.7ZM1513.4,1202.4H1543.4V1216.7H1513.4ZM1037.6,1364.6H1067.6V1378.9H1037.6ZM1073.6,1364.6H1103.6V1378.9H1073.6ZM1109.7,1364.6H1139.7V1378.9H1109.7ZM1145.8,1364.6H1175.8V1378.9H1145.8ZM1181.8,1364.6H1211.8V1378.9H1181.8ZM1217.8,1364.6H1247.8V1378.9H1217.8ZM1253.9,1364.6H1283.9V1378.9H1253.9ZM1289.9,1364.6H1319.9V1378.9H1289.9ZM1326.0,1364.6H1356.0V1378.9H1326.0ZM1362.0,1364.6H1392.0V1378.9H1362.0ZM1398.1,1364.6H1428.1V1378.9H1398.1ZM1434.1,1364.6H1464.1V1378.9H1434.1ZM1473.7,1364.6H1503.7V1378.9H1473.7ZM1513.4,1364.6H1543.4V1378.9H1513.4ZM261.8,1429.6H291.8V1443.9H261.8ZM299.3,1429.6H329.3V1443.9H299.3ZM336.6,1429.6H366.6V1443.9H336.6ZM374.9,1429.6H404.9V1443.9H374.9ZM411.4,1429.6H441.4V1443.9H411.4ZM448.1,1429.6H478.1V1443.9H448.1ZM488.6,1429.6H518.6V1443.9H488.6ZM528.3,1429.6H558.3V1443.9H528.3ZM570.1,1429.6H600.1V1443.9H570.1ZM610.5,1429.6H647.2V1443.9H610.5ZM261.8,1594.3H291.8V1608.6H261.8ZM299.3,1594.3H329.3V1608.6H299.3ZM336.6,1594.3H366.6V1608.6H336.6ZM374.9,1594.3H404.9V1608.6H374.9ZM411.4,1594.3H441.4V1608.6H411.4ZM448.1,1594.3H478.1V1608.6H448.1ZM488.6,1594.3H518.6V1608.6H488.6ZM528.3,1594.3H558.3V1608.6H528.3ZM570.1,1594.3H600.1V1608.6H570.1ZM611.5,1594.3H646.2V1608.6H611.5ZM261.0,1763.0H291.0V1777.3H261.0ZM298.8,1763.0H328.8V1777.3H298.8ZM336.0,1763.0H366.0V1777.3H336.0ZM376.5,1763.0H406.5V1777.3H376.5ZM412.7,1763.0H442.7V1777.3H412.7ZM449.2,1763.0H479.2V1777.3H449.2ZM489.1,1763.0H519.1V1777.3H489.1ZM529.1,1763.0H559.1V1777.3H529.1ZM567.4,1763.0H597.4V1777.3H567.4ZM603.9,1763.0H633.9V1777.3H603.9ZM639.5,1763.0H669.5V1777.3H639.5ZM681.4,1763.0H711.4V1777.3H681.4ZM717.8,1763.0H747.8V1777.3H717.8ZM753.4,1763.0H783.4V1777.3H753.4ZM789.9,1763.0H819.9V1777.3H789.9ZM825.0,1763.0H855.0V1777.3H825.0ZM898.7,1762.5H928.7V1776.8H898.7ZM935.7,1762.5H965.7V1776.8H935.7ZM972.4,1762.5H1002.4V1776.8H972.4ZM1007.2,1762.5H1037.2V1776.8H1007.2ZM1045.2,1762.5H1075.2V1776.8H1045.2ZM1084.4,1762.5H1114.4V1776.8H1084.4ZM1119.5,1762.5H1149.5V1776.8H1119.5ZM1155.1,1762.5H1185.1V1776.8H1155.1ZM1191.0,1762.5H1221.0V1776.8H1191.0ZM1227.0,1762.5H1257.0V1776.8H1227.0ZM1263.1,1762.5H1293.1V1776.8H1263.1ZM1300.0,1762.5H1335.0V1776.8H1300.0ZM1342.0,1762.5H1377.0V1776.8H1342.0ZM681.4,1612.6H711.4V1626.9H681.4ZM935.7,1599.8H965.7V1614.1H935.7ZM1118.1,1601.0H1148.1V1615.3H1118.1ZM152.5,1826.6H182.5V1840.9H152.5ZM188.6,1826.6H218.6V1840.9H188.6ZM223.7,1826.6H253.7V1840.9H223.7ZM262.3,1826.6H292.3V1840.9H262.3ZM298.8,1826.6H328.8V1840.9H298.8ZM335.8,1826.6H365.8V1840.9H335.8ZM375.7,1826.6H405.7V1840.9H375.7ZM412.2,1826.6H442.2V1840.9H412.2ZM448.6,1826.6H478.6V1840.9H448.6ZM487.8,1826.6H517.8V1840.9H487.8ZM527.7,1826.6H557.7V1840.9H527.7ZM566.6,1826.6H596.6V1840.9H566.6ZM603.0,1826.6H633.0V1840.9H603.0ZM639.0,1826.6H669.0V1840.9H639.0ZM684.6,1826.6H714.6V1840.9H684.6ZM721.0,1826.6H751.0V1840.9H721.0ZM757.5,1826.6H787.5V1840.9H757.5ZM793.4,1826.6H823.4V1840.9H793.4ZM829.0,1826.6H859.0V1840.9H829.0ZM864.4,1826.6H894.4V1840.9H864.4ZM900.0,1826.6H930.0V1840.9H900.0ZM937.0,1826.6H967.0V1840.9H937.0ZM973.4,1826.6H1003.4V1840.9H973.4ZM1010.7,1826.6H1040.7V1840.9H1010.7ZM1047.4,1826.6H1077.4V1840.9H1047.4ZM1084.4,1826.6H1114.4V1840.9H1084.4ZM1120.0,1826.6H1150.0V1840.9H1120.0ZM1156.0,1826.6H1186.0V1840.9H1156.0ZM1192.4,1826.6H1222.4V1840.9H1192.4ZM1228.0,1826.6H1258.0V1840.9H1228.0ZM1263.4,1826.6H1293.4V1840.9H1263.4ZM1300.0,1826.6H1335.0V1840.9H1300.0ZM1342.0,1826.6H1377.0V1840.9H1342.0ZM165.0,339.8H198.0V354.1H165.0ZM205.5,339.8H238.5V354.1H205.5ZM164.0,501.6H197.0V515.9H164.0ZM205.0,501.6H238.0V515.9H205.0ZM119.5,487.8H155.5V502.1H119.5ZM118.1,668.6H155.1V682.9H118.1ZM161.4,694.9H175.4V725.3H161.4ZM161.4,730.6H175.4V761.0H161.4ZM161.4,767.2H175.4V797.6H161.4ZM161.4,804.2H175.4V834.6H161.4ZM161.4,840.7H175.4V871.1H161.4ZM161.4,876.6H175.4V907.0H161.4ZM161.4,911.7H175.4V942.1H161.4ZM161.4,948.1H175.4V978.5H161.4ZM161.4,983.2H175.4V1013.6H161.4ZM161.4,1025.6H175.4V1056.0H161.4ZM161.4,1062.1H175.4V1092.5H161.4ZM161.4,1098.5H175.4V1128.9H161.4ZM161.4,1135.0H175.4V1165.4H161.4ZM161.4,1169.5H175.4V1199.9H161.4ZM161.4,1205.2H175.4V1235.6H161.4ZM161.4,1241.6H175.4V1272.0H161.4ZM161.4,1278.1H175.4V1308.5H161.4ZM161.4,1314.8H175.4V1345.2H161.4ZM161.4,1350.6H175.4V1381.0H161.4ZM161.4,1385.8H175.4V1416.2H161.4ZM161.4,1422.1H175.4V1452.5H161.4ZM161.4,1459.0H175.4V1489.4H161.4ZM161.4,1496.4H175.4V1526.8H161.4ZM161.4,1536.4H175.4V1566.8H161.4ZM161.4,1575.9H175.4V1606.3H161.4ZM161.4,1611.0H175.4V1641.4H161.4ZM161.4,1646.1H175.4V1676.5H161.4ZM161.4,1683.1H175.4V1713.5H161.4ZM161.4,1720.4H175.4V1750.8H161.4ZM161.4,1755.2H175.4V1785.6H161.4ZM161.4,1791.1H175.4V1821.5H161.4ZM226.6,722.5H240.3V756.3H226.6ZM399.6,767.9H413.7V800.3H399.6ZM226.6,816.7H240.4V852.6H226.6ZM226.6,862.6H240.4V896.4H226.6ZM225.2,1037.0H239.5V1070.0H225.2Z" fill="#f1f4f7" stroke="#c9c9c9" stroke-width="1"/>
<g font-size="12.4" fill="#38434c" text-anchor="middle" filter="url(#idf)">
<text x="724.0" y="522.6">1</text>
<text x="759.9" y="522.6">2</text>
<text x="795.6" y="522.6">3</text>
<text x="833.1" y="522.6">4</text>
<text x="867.6" y="522.6">5</text>
<text x="903.5" y="522.6">6</text>
<text x="940.0" y="522.6">7</text>
<text x="975.6" y="522.6">8</text>
<text x="1052.6" y="522.1">9</text>
<text x="1088.6" y="522.1">10</text>
<text x="1124.7" y="522.1">11</text>
<text x="1160.8" y="522.1">12</text>
<text x="1196.8" y="522.1">13</text>
<text x="1232.8" y="522.1">14</text>
<text x="1268.9" y="522.1">15</text>
<text x="1304.9" y="522.1">17</text>
<text x="1341.0" y="522.1">19</text>
<text x="1377.0" y="522.1">21</text>
<text x="1413.1" y="522.1">23</text>
<text x="1449.1" y="522.1">25</text>
<text x="1492.4" y="522.1">27</text>
<text x="1528.4" y="522.1">29</text>
<text x="1564.2" y="522.1">31</text>
<text x="1600.8" y="522.1">33</text>
<text x="1637.2" y="522.1">35</text>
<text x="1673.0" y="522.1">37</text>
<text x="1709.6" y="522.1">39</text>
<text x="1746.7" y="522.1">41</text>
<text x="1785.2" y="522.1">43</text>
<text x="1822.4" y="522.1">45</text>
<text x="1860.0" y="522.1">46</text>
<text x="1268.9" y="360.6">16</text>
<text x="1304.9" y="360.6">18</text>
<text x="1341.0" y="360.6">20</text>
<text x="1377.0" y="360.6">22</text>
<text x="1413.1" y="360.6">24</text>
<text x="1449.1" y="360.6">26</text>
<text x="1492.4" y="360.6">28</text>
<text x="1528.4" y="360.6">30</text>
<text x="1564.2" y="360.6">32</text>
<text x="1600.8" y="360.6">34</text>
<text x="1637.2" y="360.6">36</text>
<text x="1673.0" y="360.6">38</text>
<text x="1709.6" y="360.6">40</text>
<text x="1746.7" y="360.6">42</text>
<text x="1785.2" y="360.6">44</text>
<text x="507.5" y="589.4">48</text>
<text x="543.5" y="589.4">50</text>
<text x="579.5" y="589.4">52</text>
<text x="615.5" y="589.4">54</text>
<text x="651.5" y="589.4">56</text>
<text x="687.5" y="589.4">58</text>
<text x="723.5" y="589.4">59</text>
<text x="759.5" y="589.4">60</text>
<text x="795.5" y="589.4">61</text>
<text x="831.5" y="589.4">62</text>
<text x="867.5" y="589.4">63</text>
<text x="903.5" y="589.4">64</text>
<text x="507.5" y="751.6">47</text>
<text x="543.5" y="751.6">49</text>
<text x="579.5" y="751.6">51</text>
<text x="615.5" y="751.6">53</text>
<text x="651.5" y="751.6">55</text>
<text x="687.5" y="751.6">57</text>
<text x="723.5" y="751.6">89</text>
<text x="759.5" y="751.6">90</text>
<text x="795.5" y="751.6">91</text>
<text x="831.5" y="751.6">92</text>
<text x="867.5" y="751.6">93</text>
<text x="903.5" y="751.6">94</text>
<text x="1052.6" y="588.6">65</text>
<text x="1088.6" y="588.6">66</text>
<text x="1124.7" y="588.6">67</text>
<text x="1160.8" y="588.6">68</text>
<text x="1196.8" y="588.6">69</text>
<text x="1232.8" y="588.6">70</text>
<text x="1268.9" y="588.6">71</text>
<text x="1304.9" y="588.6">72</text>
<text x="1341.0" y="588.6">73</text>
<text x="1377.0" y="588.6">74</text>
<text x="1413.1" y="588.6">75</text>
<text x="1449.1" y="588.6">76</text>
<text x="1492.4" y="588.6">77</text>
<text x="1528.4" y="588.6">78</text>
<text x="1564.2" y="588.6">79</text>
<text x="1600.8" y="588.6">80</text>
<text x="1637.2" y="588.6">81</text>
<text x="1673.0" y="588.6">82</text>
<text x="1709.6" y="588.6">83</text>
<text x="1746.7" y="588.6">84</text>
<text x="1785.2" y="588.6">85</text>
<text x="1822.4" y="588.6">86</text>
<text x="1860.0" y="588.6">87</text>
<text x="1894.8" y="588.6">88</text>
<text x="1052.6" y="750.9">95</text>
<text x="1088.6" y="750.9">96</text>
<text x="1124.7" y="750.9">97</text>
<text x="1160.8" y="750.9">98</text>
<text x="1196.8" y="750.9">99</text>
<text x="1232.8" y="750.9">100</text>
<text x="1268.9" y="750.9">101</text>
<text x="1304.9" y="750.9">102</text>
<text x="1341.0" y="750.9">103</text>
<text x="1377.0" y="750.9">104</text>
<text x="1413.1" y="750.9">105</text>
<text x="1449.1" y="750.9">106</text>
<text x="1492.4" y="750.9">107</text>
<text x="1528.4" y="750.9">108</text>
<text x="507.5" y="818.7">109</text>
<text x="543.5" y="818.7">110</text>
<text x="579.5" y="818.7">111</text>
<text x="615.5" y="818.7">112</text>
<text x="651.5" y="818.7">113</text>
<text x="687.5" y="818.7">114</text>
<text x="723.5" y="818.7">115</text>
<text x="759.5" y="818.7">116</text>
<text x="795.5" y="818.7">117</text>
<text x="831.5" y="818.7">118</text>
<text x="867.5" y="818.7">119</text>
<text x="903.5" y="818.7">120</text>
<text x="507.5" y="980.5">135</text>
<text x="543.5" y="980.5">136</text>
<text x="579.5" y="980.5">137</text>
<text x="615.5" y="980.5">138</text>
<text x="651.5" y="980.5">139</text>
<text x="687.5" y="980.5">140</text>
<text x="723.5" y="980.5">141</text>
<text x="759.5" y="980.5">142</text>
<text x="795.5" y="980.5">143</text>
<text x="831.5" y="980.5">144</text>
<text x="867.5" y="980.5">145</text>
<text x="903.5" y="980.5">146</text>
<text x="1052.9" y="818.7">121</text>
<text x="1089.0" y="818.7">122</text>
<text x="1125.1" y="818.7">123</text>
<text x="1161.2" y="818.7">124</text>
<text x="1197.3" y="818.7">125</text>
<text x="1233.4" y="818.7">126</text>
<text x="1269.5" y="818.7">127</text>
<text x="1305.6" y="818.7">128</text>
<text x="1341.7" y="818.7">129</text>
<text x="1377.8" y="818.7">130</text>
<text x="1413.9" y="818.7">131</text>
<text x="1450.0" y="818.7">132</text>
<text x="1490.0" y="818.7">133</text>
<text x="1052.9" y="980.5">147</text>
<text x="1089.0" y="980.5">148</text>
<text x="1125.1" y="980.5">149</text>
<text x="1161.2" y="980.5">150</text>
<text x="1197.3" y="980.5">151</text>
<text x="1233.4" y="980.5">152</text>
<text x="1269.5" y="980.5">153</text>
<text x="1305.6" y="980.5">154</text>
<text x="1341.7" y="980.5">155</text>
<text x="1377.8" y="980.5">156</text>
<text x="1413.9" y="980.5">157</text>
<text x="1450.0" y="980.5">158</text>
<text x="1490.0" y="980.5">134</text>
<text x="507.5" y="1150.8">159</text>
<text x="543.5" y="1150.8">160</text>
<text x="579.5" y="1150.8">161</text>
<text x="615.5" y="1150.8">162</text>
<text x="651.5" y="1150.8">163</text>
<text x="687.5" y="1150.8">164</text>
<text x="723.5" y="1150.8">165</text>
<text x="759.5" y="1150.8">166</text>
<text x="795.5" y="1150.8">167</text>
<text x="831.5" y="1150.8">168</text>
<text x="867.5" y="1150.8">169</text>
<text x="903.5" y="1150.8">170</text>
<text x="1052.6" y="1149.4">171</text>
<text x="1088.6" y="1149.4">172</text>
<text x="1124.7" y="1149.4">173</text>
<text x="1160.8" y="1149.4">174</text>
<text x="1196.8" y="1149.4">175</text>
<text x="1232.8" y="1149.4">176</text>
<text x="1268.9" y="1149.4">177</text>
<text x="1304.9" y="1149.4">178</text>
<text x="1341.0" y="1149.4">179</text>
<text x="1377.0" y="1149.4">180</text>
<text x="1413.1" y="1149.4">181</text>
<text x="1449.1" y="1149.4">182</text>
<text x="1488.8" y="1149.4">183</text>
<text x="1527.7" y="1149.4">184</text>
<text x="276.8" y="1214.6">186</text>
<text x="314.3" y="1214.6">188</text>
<text x="351.0" y="1214.6">190</text>
<text x="389.4" y="1214.6">192</text>
<text x="426.4" y="1214.6">194</text>
<text x="462.3" y="1214.6">196</text>
<text x="507.5" y="1214.6">197</text>
<text x="543.5" y="1214.6">198</text>
<text x="579.5" y="1214.6">199</text>
<text x="615.5" y="1214.6">200</text>
<text x="651.5" y="1214.6">201</text>
<text x="687.5" y="1214.6">202</text>
<text x="723.5" y="1214.6">203</text>
<text x="759.5" y="1214.6">204</text>
<text x="795.5" y="1214.6">205</text>
<text x="831.5" y="1214.6">206</text>
<text x="867.5" y="1214.6">207</text>
<text x="903.5" y="1214.6">208</text>
<text x="276.8" y="1376.8">185</text>
<text x="314.3" y="1376.8">187</text>
<text x="351.0" y="1376.8">189</text>
<text x="389.4" y="1376.8">191</text>
<text x="426.4" y="1376.8">193</text>
<text x="462.3" y="1376.8">195</text>
<text x="507.5" y="1376.8">223</text>
<text x="543.5" y="1376.8">224</text>
<text x="579.5" y="1376.8">225</text>
<text x="615.5" y="1376.8">226</text>
<text x="651.5" y="1376.8">227</text>
<text x="687.5" y="1376.8">228</text>
<text x="723.5" y="1376.8">229</text>
<text x="759.5" y="1376.8">230</text>
<text x="795.5" y="1376.8">231</text>
<text x="831.5" y="1376.8">232</text>
<text x="867.5" y="1376.8">233</text>
<text x="903.5" y="1376.8">234</text>
<text x="1052.6" y="1214.6">209</text>
<text x="1088.6" y="1214.6">210</text>
<text x="1124.7" y="1214.6">211</text>
<text x="1160.8" y="1214.6">212</text>
<text x="1196.8" y="1214.6">213</text>
<text x="1232.8" y="1214.6">214</text>
<text x="1268.9" y="1214.6">215</text>
<text x="1304.9" y="1214.6">216</text>
<text x="1341.0" y="1214.6">217</text>
<text x="1377.0" y="1214.6">218</text>
<text x="1413.1" y="1214.6">219</text>
<text x="1449.1" y="1214.6">220</text>
<text x="1488.7" y="1214.6">221</text>
<text x="1528.4" y="1214.6">222</text>
<text x="1052.6" y="1376.8">235</text>
<text x="1088.6" y="1376.8">236</text>
<text x="1124.7" y="1376.8">237</text>
<text x="1160.8" y="1376.8">238</text>
<text x="1196.8" y="1376.8">239</text>
<text x="1232.8" y="1376.8">240</text>
<text x="1268.9" y="1376.8">241</text>
<text x="1304.9" y="1376.8">242</text>
<text x="1341.0" y="1376.8">243</text>
<text x="1377.0" y="1376.8">244</text>
<text x="1413.1" y="1376.8">245</text>
<text x="1449.1" y="1376.8">246</text>
<text x="1488.7" y="1376.8">247</text>
<text x="1528.4" y="1376.8">248</text>
<text x="276.8" y="1441.8">249</text>
<text x="314.3" y="1441.8">250</text>
<text x="351.6" y="1441.8">251</text>
<text x="389.9" y="1441.8">252</text>
<text x="426.4" y="1441.8">253</text>
<text x="463.1" y="1441.8">254</text>
<text x="503.6" y="1441.8">255</text>
<text x="543.3" y="1441.8">256</text>
<text x="585.1" y="1441.8">257</text>
<text x="628.9" y="1441.8">258</text>
<text x="276.8" y="1606.5">259</text>
<text x="314.3" y="1606.5">260</text>
<text x="351.6" y="1606.5">261</text>
<text x="389.9" y="1606.5">262</text>
<text x="426.4" y="1606.5">263</text>
<text x="463.1" y="1606.5">264</text>
<text x="503.6" y="1606.5">265</text>
<text x="543.3" y="1606.5">266</text>
<text x="585.1" y="1606.5">267</text>
<text x="628.9" y="1606.5">268</text>
<text x="276.0" y="1775.2">269</text>
<text x="313.8" y="1775.2">270</text>
<text x="351.0" y="1775.2">271</text>
<text x="391.5" y="1775.2">272</text>
<text x="427.7" y="1775.2">273</text>
<text x="464.2" y="1775.2">274</text>
<text x="504.1" y="1775.2">275</text>
<text x="544.1" y="1775.2">276</text>
<text x="582.4" y="1775.2">277</text>
<text x="618.9" y="1775.2">278</text>
<text x="654.5" y="1775.2">279</text>
<text x="696.4" y="1775.2">280</text>
<text x="732.8" y="1775.2">281</text>
<text x="768.4" y="1775.2">282</text>
<text x="804.9" y="1775.2">284</text>
<text x="840.0" y="1775.2">285</text>
<text x="913.7" y="1774.8">287</text>
<text x="950.7" y="1774.8">288</text>
<text x="987.4" y="1774.8">290</text>
<text x="1022.2" y="1774.8">291</text>
<text x="1060.2" y="1774.8">292</text>
<text x="1099.4" y="1774.8">293</text>
<text x="1134.5" y="1774.8">294</text>
<text x="1170.1" y="1774.8">295</text>
<text x="1206.0" y="1774.8">296</text>
<text x="1242.0" y="1774.8">297</text>
<text x="1278.1" y="1774.8">298</text>
<text x="1317.5" y="1774.8">299</text>
<text x="1359.5" y="1774.8">300</text>
<text x="696.4" y="1624.8">283</text>
<text x="950.7" y="1612.0">289</text>
<text x="1133.1" y="1613.2">286</text>
<text x="167.5" y="1838.8">301</text>
<text x="203.6" y="1838.8">302</text>
<text x="238.7" y="1838.8">303</text>
<text x="277.3" y="1838.8">304</text>
<text x="313.8" y="1838.8">305</text>
<text x="350.8" y="1838.8">306</text>
<text x="390.7" y="1838.8">307</text>
<text x="427.2" y="1838.8">308</text>
<text x="463.6" y="1838.8">309</text>
<text x="502.8" y="1838.8">310</text>
<text x="542.7" y="1838.8">311</text>
<text x="581.6" y="1838.8">312</text>
<text x="618.0" y="1838.8">313</text>
<text x="654.0" y="1838.8">314</text>
<text x="699.6" y="1838.8">315</text>
<text x="736.0" y="1838.8">316</text>
<text x="772.5" y="1838.8">317</text>
<text x="808.4" y="1838.8">318</text>
<text x="844.0" y="1838.8">319</text>
<text x="879.4" y="1838.8">320</text>
<text x="915.0" y="1838.8">321</text>
<text x="952.0" y="1838.8">322</text>
<text x="988.4" y="1838.8">323</text>
<text x="1025.7" y="1838.8">324</text>
<text x="1062.4" y="1838.8">325</text>
<text x="1099.4" y="1838.8">326</text>
<text x="1135.0" y="1838.8">327</text>
<text x="1171.0" y="1838.8">328</text>
<text x="1207.4" y="1838.8">329</text>
<text x="1243.0" y="1838.8">330</text>
<text x="1278.4" y="1838.8">331</text>
<text x="1317.5" y="1838.8">332</text>
<text x="1359.5" y="1838.8">333</text>
<text x="181.5" y="352.1">340</text>
<text x="222.0" y="352.1">342</text>
<text x="180.5" y="513.9">339</text>
<text x="221.5" y="513.9">341</text>
<text x="137.5" y="500.1">343</text>
<text x="136.6" y="680.9">344</text>
<text transform="translate(168.4,710.1) rotate(-90)" y="4.9">345</text>
<text transform="translate(168.4,745.8) rotate(-90)" y="4.9">346</text>
<text transform="translate(168.4,782.4) rotate(-90)" y="4.9">347</text>
<text transform="translate(168.4,819.4) rotate(-90)" y="4.9">348</text>
<text transform="translate(168.4,855.9) rotate(-90)" y="4.9">349</text>
<text transform="translate(168.4,891.8) rotate(-90)" y="4.9">350</text>
<text transform="translate(168.4,926.9) rotate(-90)" y="4.9">351</text>
<text transform="translate(168.4,963.3) rotate(-90)" y="4.9">352</text>
<text transform="translate(168.4,998.4) rotate(-90)" y="4.9">353</text>
<text transform="translate(168.4,1040.8) rotate(-90)" y="4.9">354</text>
<text transform="translate(168.4,1077.3) rotate(-90)" y="4.9">355</text>
<text transform="translate(168.4,1113.7) rotate(-90)" y="4.9">356</text>
<text transform="translate(168.4,1150.2) rotate(-90)" y="4.9">357</text>
<text transform="translate(168.4,1184.7) rotate(-90)" y="4.9">358</text>
<text transform="translate(168.4,1220.4) rotate(-90)" y="4.9">359</text>
<text transform="translate(168.4,1256.8) rotate(-90)" y="4.9">360</text>
<text transform="translate(168.4,1293.3) rotate(-90)" y="4.9">361</text>
<text transform="translate(168.4,1330.0) rotate(-90)" y="4.9">362</text>
<text transform="translate(168.4,1365.8) rotate(-90)" y="4.9">363</text>
<text transform="translate(168.4,1401.0) rotate(-90)" y="4.9">364</text>
<text transform="translate(168.4,1437.3) rotate(-90)" y="4.9">365</text>
<text transform="translate(168.4,1474.2) rotate(-90)" y="4.9">366</text>
<text transform="translate(168.4,1511.6) rotate(-90)" y="4.9">367</text>
<text transform="translate(168.4,1551.6) rotate(-90)" y="4.9">368</text>
<text transform="translate(168.4,1591.1) rotate(-90)" y="4.9">369</text>
<text transform="translate(168.4,1626.2) rotate(-90)" y="4.9">370</text>
<text transform="translate(168.4,1661.3) rotate(-90)" y="4.9">371</text>
<text transform="translate(168.4,1698.3) rotate(-90)" y="4.9">372</text>
<text transform="translate(168.4,1735.6) rotate(-90)" y="4.9">373</text>
<text transform="translate(168.4,1770.4) rotate(-90)" y="4.9">374</text>
<text transform="translate(168.4,1806.3) rotate(-90)" y="4.9">375</text>
<text transform="translate(233.4,739.4) rotate(90)" y="4.9">334</text>
<text transform="translate(406.6,784.1) rotate(90)" y="4.9">335</text>
<text transform="translate(233.5,834.7) rotate(90)" y="4.9">336</text>
<text transform="translate(233.5,879.5) rotate(90)" y="4.9">337</text>
<text transform="translate(232.3,1053.5) rotate(90)" y="4.9">338</text>
</g>
</g></svg></body></html>
